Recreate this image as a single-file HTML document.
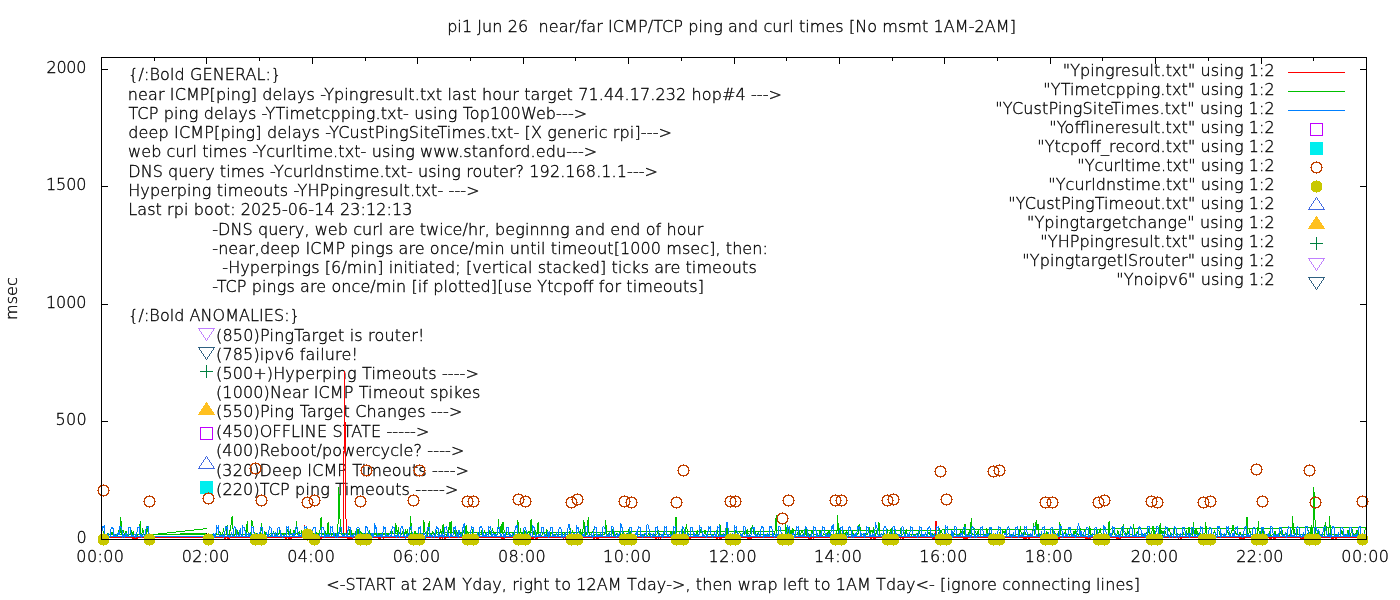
<!DOCTYPE html>
<html><head><meta charset="utf-8"><title>pi1 ping and curl times</title>
<style>html,body{margin:0;padding:0;background:#fff;}svg{display:block;}text{font-family:"DejaVu Sans","Liberation Sans",sans-serif;font-size:16px;font-weight:200;fill:#000;white-space:pre;stroke:#000;stroke-width:0.33px;}.c{shape-rendering:crispEdges;fill:none;stroke-width:1;}</style></head><body>
<svg width="1400" height="600" viewBox="0 0 1400 600">
<rect width="1400" height="600" fill="#fff"/>
<text x="447.14" y="32" textLength="568.83" lengthAdjust="spacing" xml:space="preserve">pi1 Jun 26  near/far ICMP/TCP ping and curl times [No msmt 1AM-2AM]</text>
<text x="326.27" y="590" textLength="813.7" lengthAdjust="spacing" xml:space="preserve">&lt;-START at 2AM Yday, right to 12AM Tday-&gt;, then wrap left to 1AM Tday&lt;- [ignore connecting lines]</text>
<text x="128.25" y="80" textLength="152.92" lengthAdjust="spacing" xml:space="preserve">{/:Bold GENERAL:}</text>
<text x="127.85" y="100" textLength="654.16" lengthAdjust="spacing" xml:space="preserve">near ICMP[ping] delays -Ypingresult.txt last hour target 71.44.17.232 hop#4 ---&gt;</text>
<text x="128.41" y="119" textLength="458.8" lengthAdjust="spacing" xml:space="preserve">TCP ping delays -YTimetcpping.txt- using Top100Web---&gt;</text>
<text x="128.29" y="138" textLength="543.72" lengthAdjust="spacing" xml:space="preserve">deep ICMP[ping] delays -YCustPingSiteTimes.txt- [X generic rpi]---&gt;</text>
<text x="128.05" y="157" textLength="469.17" lengthAdjust="spacing" xml:space="preserve">web curl times -Ycurltime.txt- using www.stanford.edu---&gt;</text>
<text x="128.22" y="177" textLength="529.79" lengthAdjust="spacing" xml:space="preserve">DNS query times -Ycurldnstime.txt- using router? 192.168.1.1---&gt;</text>
<text x="128.22" y="196" textLength="351.39" lengthAdjust="spacing" xml:space="preserve">Hyperping timeouts -YHPpingresult.txt- ---&gt;</text>
<text x="128.21" y="215" textLength="284.3" lengthAdjust="spacing" xml:space="preserve">Last rpi boot: 2025-06-14 23:12:13</text>
<text x="212.28" y="235" textLength="491.01" lengthAdjust="spacing" xml:space="preserve">-DNS query, web curl are twice/hr, beginnng and end of hour</text>
<text x="212.28" y="254" textLength="555.62" lengthAdjust="spacing" xml:space="preserve">-near,deep ICMP pings are once/min until timeout[1000 msec], then:</text>
<text x="222.28" y="273" textLength="534.47" lengthAdjust="spacing" xml:space="preserve">-Hyperpings [6/min] initiated; [vertical stacked] ticks are timeouts</text>
<text x="212.28" y="292" textLength="491.7" lengthAdjust="spacing" xml:space="preserve">-TCP pings are once/min [if plotted][use Ytcpoff for timeouts]</text>
<text x="128.25" y="321" textLength="171.59" lengthAdjust="spacing" xml:space="preserve">{/:Bold ANOMALIES:}</text>
<text x="216.01" y="341" textLength="208.49" lengthAdjust="spacing" xml:space="preserve">(850)PingTarget is router!</text>
<text x="216.01" y="360" textLength="141.79" lengthAdjust="spacing" xml:space="preserve">(785)ipv6 failure!</text>
<text x="216.01" y="379" textLength="262.92" lengthAdjust="spacing" xml:space="preserve">(500+)Hyperping Timeouts ----&gt;</text>
<text x="216.01" y="398" textLength="264.38" lengthAdjust="spacing" xml:space="preserve">(1000)Near ICMP Timeout spikes</text>
<text x="216.01" y="417" textLength="246.36" lengthAdjust="spacing" xml:space="preserve">(550)Ping Target Changes ---&gt;</text>
<text x="216.01" y="437" textLength="213.33" lengthAdjust="spacing" xml:space="preserve">(450)OFFLINE STATE -----&gt;</text>
<text x="216.01" y="456" textLength="248.32" lengthAdjust="spacing" xml:space="preserve">(400)Reboot/powercycle? ----&gt;</text>
<text x="216.01" y="476" textLength="252.92" lengthAdjust="spacing" xml:space="preserve">(320)Deep ICMP Timeouts ----&gt;</text>
<text x="216.01" y="495" textLength="242.34" lengthAdjust="spacing" xml:space="preserve">(220)TCP ping Timeouts -----&gt;</text>
<text x="1062.75" y="76" textLength="211.92" lengthAdjust="spacing" xml:space="preserve">"Ypingresult.txt" using 1:2</text>
<text x="1043.35" y="95" textLength="231.33" lengthAdjust="spacing" xml:space="preserve">"YTimetcpping.txt" using 1:2</text>
<text x="995.35" y="114" textLength="279.32" lengthAdjust="spacing" xml:space="preserve">"YCustPingSiteTimes.txt" using 1:2</text>
<text x="1049.35" y="133" textLength="225.34" lengthAdjust="spacing" xml:space="preserve">"Yofflineresult.txt" using 1:2</text>
<text x="1037.35" y="152" textLength="237.33" lengthAdjust="spacing" xml:space="preserve">"Ytcpoff_record.txt" using 1:2</text>
<text x="1077.35" y="171" textLength="197.3" lengthAdjust="spacing" xml:space="preserve">"Ycurltime.txt" using 1:2</text>
<text x="1048.35" y="190" textLength="226.31" lengthAdjust="spacing" xml:space="preserve">"Ycurldnstime.txt" using 1:2</text>
<text x="1008.35" y="209" textLength="266.32" lengthAdjust="spacing" xml:space="preserve">"YCustPingTimeout.txt" using 1:2</text>
<text x="1026.95" y="228" textLength="247.74" lengthAdjust="spacing" xml:space="preserve">"Ypingtargetchange" using 1:2</text>
<text x="1040.35" y="247" textLength="234.34" lengthAdjust="spacing" xml:space="preserve">"YHPpingresult.txt" using 1:2</text>
<text x="1022.35" y="266" textLength="252.33" lengthAdjust="spacing" xml:space="preserve">"YpingtargetISrouter" using 1:2</text>
<text x="1116.35" y="285" textLength="158.31" lengthAdjust="spacing" xml:space="preserve">"Ynoipv6" using 1:2</text>
<text x="76.34" y="562" textLength="47.7" lengthAdjust="spacing" xml:space="preserve">00:00</text>
<text x="181.74" y="562" textLength="47.7" lengthAdjust="spacing" xml:space="preserve">02:00</text>
<text x="287.14" y="562" textLength="47.7" lengthAdjust="spacing" xml:space="preserve">04:00</text>
<text x="392.64" y="562" textLength="47.58" lengthAdjust="spacing" xml:space="preserve">06:00</text>
<text x="498.04" y="562" textLength="47.7" lengthAdjust="spacing" xml:space="preserve">08:00</text>
<text x="603.11" y="562" textLength="48.11" lengthAdjust="spacing" xml:space="preserve">10:00</text>
<text x="708.51" y="562" textLength="48.11" lengthAdjust="spacing" xml:space="preserve">12:00</text>
<text x="813.91" y="562" textLength="48.11" lengthAdjust="spacing" xml:space="preserve">14:00</text>
<text x="919.31" y="562" textLength="48.11" lengthAdjust="spacing" xml:space="preserve">16:00</text>
<text x="1024.71" y="562" textLength="48.24" lengthAdjust="spacing" xml:space="preserve">18:00</text>
<text x="1130.86" y="562" textLength="47.3" lengthAdjust="spacing" xml:space="preserve">20:00</text>
<text x="1236.26" y="562" textLength="47.3" lengthAdjust="spacing" xml:space="preserve">22:00</text>
<text x="1341.34" y="562" textLength="47.7" lengthAdjust="spacing" xml:space="preserve">00:00</text>
<text x="76.54" y="543" textLength="10.98" lengthAdjust="spacing" xml:space="preserve">0</text>
<text x="55.59" y="425" textLength="31.2" lengthAdjust="spacing" xml:space="preserve">500</text>
<text x="45.91" y="308" textLength="40.64" lengthAdjust="spacing" xml:space="preserve">1000</text>
<text x="45.91" y="190" textLength="40.64" lengthAdjust="spacing" xml:space="preserve">1500</text>
<text x="46.56" y="73" textLength="39.78" lengthAdjust="spacing" xml:space="preserve">2000</text>
<text transform="translate(17,298.6) rotate(-90)" text-anchor="middle" textLength="42.9">msec</text>
<path class="c" stroke="#000" d="M101.5,421.5h6.5 M1366.5,421.5h-6.5 M101.5,304.5h6.5 M1366.5,304.5h-6.5 M101.5,186.5h6.5 M1366.5,186.5h-6.5 M101.5,69.5h6.5 M1366.5,69.5h-6.5 M154.5,57.5v3.5 M154.5,539.5v-3.5 M206.5,57.5v6.5 M206.5,539.5v-6.5 M259.5,57.5v3.5 M259.5,539.5v-3.5 M312.5,57.5v6.5 M312.5,539.5v-6.5 M365.5,57.5v3.5 M365.5,539.5v-3.5 M417.5,57.5v6.5 M417.5,539.5v-6.5 M470.5,57.5v3.5 M470.5,539.5v-3.5 M523.5,57.5v6.5 M523.5,539.5v-6.5 M575.5,57.5v3.5 M575.5,539.5v-3.5 M628.5,57.5v6.5 M628.5,539.5v-6.5 M681.5,57.5v3.5 M681.5,539.5v-3.5 M734.5,57.5v6.5 M734.5,539.5v-6.5 M786.5,57.5v3.5 M786.5,539.5v-3.5 M839.5,57.5v6.5 M839.5,539.5v-6.5 M892.5,57.5v3.5 M892.5,539.5v-3.5 M944.5,57.5v6.5 M944.5,539.5v-6.5 M997.5,57.5v3.5 M997.5,539.5v-3.5 M1050.5,57.5v6.5 M1050.5,539.5v-6.5 M1102.5,57.5v3.5 M1102.5,539.5v-3.5 M1155.5,57.5v6.5 M1155.5,539.5v-6.5 M1208.5,57.5v3.5 M1208.5,539.5v-3.5 M1261.5,57.5v6.5 M1261.5,539.5v-6.5 M1313.5,57.5v3.5 M1313.5,539.5v-3.5"/>
<polyline class="c" stroke="#ff0000" points="210.4,537.4 211.3,537.4 212.2,537.4 213.1,537.4 213.9,537.4 214.8,537.4 215.7,537.4 216.6,537.4 217.5,537.4 218.3,537.4 219.2,537.4 220.1,537.4 221.0,537.4 221.9,537.4 222.7,537.4 223.6,537.4 224.5,538.3 225.4,538.3 226.2,537.4 227.1,538.3 228.0,538.3 228.9,538.3 229.8,538.3 230.6,537.4 231.5,537.4 232.4,537.4 233.3,537.4 234.1,537.4 235.0,537.4 235.9,537.4 236.8,537.4 237.7,537.4 238.5,537.4 239.4,537.4 240.3,537.4 241.2,537.4 242.1,537.4 242.9,537.4 243.8,537.4 244.7,537.4 245.6,537.4 246.4,537.4 247.3,537.4 248.2,537.4 249.1,537.4 250.0,537.4 250.8,537.4 251.7,537.4 252.6,537.4 253.5,537.4 254.4,537.4 255.2,538.3 256.1,538.3 257.0,538.3 257.9,538.3 258.7,537.4 259.6,537.4 260.5,538.3 261.4,537.4 262.3,537.4 263.1,537.4 264.0,537.4 264.9,537.4 265.8,537.4 266.7,537.4 267.5,537.4 268.4,537.4 269.3,537.4 270.2,537.4 271.0,537.4 271.9,537.4 272.8,537.4 273.7,537.4 274.6,537.4 275.4,537.4 276.3,537.4 277.2,537.4 278.1,537.4 279.0,537.4 279.8,537.4 280.7,537.4 281.6,537.4 282.5,537.4 283.3,537.4 284.2,537.4 285.1,537.4 286.0,538.3 286.9,538.3 287.7,537.4 288.6,538.3 289.5,538.3 290.4,538.3 291.2,538.3 292.1,537.4 293.0,537.4 293.9,537.4 294.8,537.4 295.6,537.4 296.5,537.4 297.4,537.4 298.3,537.4 299.2,537.4 300.0,537.4 300.9,537.4 301.8,537.4 302.7,537.4 303.5,537.4 304.4,525.4 305.3,537.4 306.2,537.4 307.1,537.4 307.9,537.4 308.8,537.4 309.7,537.4 310.6,537.4 311.5,537.4 312.3,537.4 313.2,537.4 314.1,537.4 315.0,537.4 315.8,537.4 316.7,537.4 317.6,538.3 318.5,538.3 319.4,538.3 320.2,538.3 321.1,538.3 322.0,537.4 322.9,537.4 323.8,537.4 324.6,537.4 325.5,537.4 326.4,537.4 327.3,537.4 328.1,537.4 329.0,537.4 329.9,537.4 330.8,537.4 331.7,537.4 332.5,537.4 333.4,537.4 334.3,537.4 335.2,537.4 336.1,537.4 336.9,537.4 337.8,537.4 338.7,537.4 339.6,537.4 340.4,537.4 341.3,537.4 342.2,537.4 343.1,537.4 343.5,537.6 344.5,371.5 346.2,537.4 346.6,537.4 347.5,538.3 348.4,538.3 349.2,538.3 350.1,538.3 351.0,538.3 351.9,538.3 352.7,538.3 353.6,537.4 354.5,537.4 355.4,537.4 356.3,537.4 357.1,537.4 358.0,537.4 358.9,537.4 359.8,537.4 360.6,537.4 361.5,537.4 362.4,537.4 363.3,537.4 364.2,537.4 365.0,537.4 365.9,537.4 366.8,537.4 367.7,537.4 368.6,537.4 369.4,537.4 370.3,537.4 371.2,537.4 372.1,537.4 372.9,537.4 373.8,537.4 374.7,537.4 375.6,537.4 376.5,537.4 377.3,537.4 378.2,538.3 379.1,538.3 380.0,538.3 380.9,538.3 381.7,537.4 382.6,537.4 383.5,538.3 384.4,537.4 385.2,537.4 386.1,537.4 387.0,537.4 387.9,537.4 388.8,537.4 389.6,537.4 390.5,537.4 391.4,537.4 392.3,537.4 393.2,537.4 394.0,537.4 394.9,537.4 395.8,537.4 396.7,537.4 397.5,537.4 398.4,537.4 399.3,537.4 400.2,537.4 401.1,537.4 401.9,537.4 402.8,537.4 403.7,537.4 404.6,537.4 405.5,537.4 406.3,537.4 407.2,537.4 408.1,537.4 409.0,537.4 409.8,537.4 410.7,538.3 411.6,538.3 412.5,538.3 413.4,538.3 414.2,538.3 415.1,537.4 416.0,537.4 416.9,537.4 417.8,537.4 418.6,537.4 419.5,537.4 420.4,537.4 421.3,537.4 422.1,537.4 423.0,537.4 423.9,537.4 424.8,537.4 425.7,537.4 426.5,537.4 427.4,537.4 428.3,537.4 429.2,537.4 430.0,537.4 430.9,537.4 431.8,537.4 432.7,537.4 433.6,537.4 434.4,537.4 435.3,537.4 436.2,537.4 437.1,537.4 438.0,537.4 438.8,537.4 439.7,538.3 440.6,538.3 441.5,537.4 442.3,538.3 443.2,537.4 444.1,538.3 445.0,538.3 445.9,537.4 446.7,537.4 447.6,537.4 448.5,537.4 449.4,537.4 450.3,537.4 451.1,537.4 452.0,537.4 452.9,537.4 453.8,537.4 454.6,537.4 455.5,537.4 456.4,537.4 457.3,537.4 458.2,537.4 459.0,537.4 459.9,537.4 460.8,537.4 461.7,537.4 462.6,537.4 463.4,537.4 464.3,537.4 465.2,537.4 466.1,537.4 466.9,537.4 467.8,537.4 468.7,537.4 469.6,537.4 470.5,538.3 471.3,537.4 472.2,538.3 473.1,538.3 474.0,538.3 474.9,537.4 475.7,537.4 476.6,537.4 477.5,537.4 478.4,537.4 479.2,537.4 480.1,537.4 481.0,537.4 481.9,537.4 482.8,537.4 483.6,537.4 484.5,537.4 485.4,537.4 486.3,537.4 487.1,537.4 488.0,537.4 488.9,537.4 489.8,537.4 490.7,537.4 491.5,537.4 492.4,537.4 493.3,537.4 494.2,537.4 495.1,537.4 495.9,537.4 496.8,537.4 497.7,537.4 498.6,537.4 499.4,537.4 500.3,537.4 501.2,538.3 502.1,538.3 503.0,538.3 503.8,538.3 504.7,538.3 505.6,537.4 506.5,537.4 507.4,537.4 508.2,537.4 509.1,537.4 510.0,537.4 510.9,537.4 511.7,537.4 512.6,537.4 513.5,537.4 514.4,537.4 515.3,537.4 516.1,537.4 517.0,537.4 517.9,537.4 518.8,537.4 519.7,537.4 520.5,537.4 521.4,537.4 522.3,537.4 523.2,537.4 524.0,537.4 524.9,537.4 525.8,537.4 526.7,537.4 527.6,537.4 528.4,537.4 529.3,537.4 530.2,537.4 531.1,537.4 532.0,538.3 532.8,538.3 533.7,538.3 534.6,537.4 535.5,538.3 536.3,538.3 537.2,538.3 538.1,537.4 539.0,537.4 539.9,537.4 540.7,537.4 541.6,537.4 542.5,537.4 543.4,537.4 544.2,537.4 545.1,537.4 546.0,537.4 546.9,537.4 547.8,537.4 548.6,537.4 549.5,537.4 550.4,537.4 551.3,537.4 552.2,537.4 553.0,537.4 553.9,537.4 554.8,537.4 555.7,537.4 556.5,537.4 557.4,537.4 558.3,537.4 559.2,537.4 560.1,537.4 560.9,537.4 561.8,537.4 562.7,537.4 563.6,538.3 564.5,537.4 565.3,538.3 566.2,538.3 567.1,537.4 568.0,538.3 568.8,537.4 569.7,537.4 570.6,537.4 571.5,537.4 572.4,537.4 573.2,537.4 574.1,537.4 575.0,537.4 575.9,537.4 576.8,537.4 577.6,537.4 578.5,537.4 579.4,537.4 580.3,537.4 581.1,537.4 582.0,537.4 582.9,537.4 583.8,537.4 584.7,537.4 585.5,537.4 586.4,537.4 587.3,537.4 588.2,537.4 589.1,537.4 589.9,537.4 590.8,537.4 591.7,537.4 592.6,537.4 593.4,538.3 594.3,538.3 595.2,537.4 596.1,538.3 597.0,538.3 597.8,538.3 598.7,538.3 599.6,537.4 600.5,537.4 601.4,537.4 602.2,537.4 603.1,537.4 604.0,537.4 604.9,537.4 605.7,537.4 606.6,537.4 607.5,537.4 608.4,537.4 609.3,537.4 610.1,537.4 611.0,537.4 611.9,537.4 612.8,537.4 613.6,537.4 614.5,537.4 615.4,537.4 616.3,537.4 617.2,537.4 618.0,537.4 618.9,537.4 619.8,537.4 620.7,537.4 621.6,537.4 622.4,537.4 623.3,537.4 624.2,538.3 625.1,537.4 625.9,537.4 626.8,537.4 627.7,538.3 628.6,538.3 629.5,537.4 630.3,537.4 631.2,537.4 632.1,537.4 633.0,537.4 633.9,537.4 634.7,537.4 635.6,537.4 636.5,537.4 637.4,537.4 638.2,537.4 639.1,537.4 640.0,537.4 640.9,537.4 641.8,537.4 642.6,537.4 643.5,537.4 644.4,537.4 645.3,537.4 646.2,537.4 647.0,537.4 647.9,537.4 648.8,537.4 649.7,537.4 650.5,537.4 651.4,537.4 652.3,537.4 653.2,537.4 654.1,537.4 654.9,537.4 655.8,538.3 656.7,538.3 657.6,537.4 658.5,538.3 659.3,537.4 660.2,538.3 661.1,537.4 662.0,537.4 662.8,537.4 663.7,537.4 664.6,537.4 665.5,537.4 666.4,537.4 667.2,537.4 668.1,537.4 669.0,537.4 669.9,537.4 670.8,537.4 671.6,537.4 672.5,537.4 673.4,537.4 674.3,537.4 675.1,537.4 676.0,537.4 676.9,537.4 677.8,537.4 678.7,537.4 679.5,537.4 680.4,537.4 681.3,537.4 682.2,537.4 683.0,537.4 683.9,537.4 684.8,537.4 685.7,537.4 686.6,538.3 687.4,538.3 688.3,538.3 689.2,538.3 690.1,538.3 691.0,538.3 691.8,537.4 692.7,537.4 693.6,537.4 694.5,537.4 695.3,537.4 696.2,537.4 697.1,537.4 698.0,537.4 698.9,537.4 699.7,537.4 700.6,537.4 701.5,537.4 702.4,537.4 703.3,537.4 704.1,537.4 705.0,537.4 705.9,537.4 706.8,537.4 707.6,537.4 708.5,537.4 709.4,537.4 710.3,537.4 711.2,537.4 712.0,537.4 712.9,537.4 713.8,537.4 714.7,537.4 715.6,537.4 716.4,538.3 717.3,538.3 718.2,537.4 719.1,538.3 719.9,538.3 720.8,538.3 721.7,538.3 722.6,537.4 723.5,537.4 724.3,537.4 725.2,537.4 726.1,537.4 727.0,537.4 727.9,537.4 728.7,537.4 729.6,537.4 730.5,537.4 731.4,537.4 732.2,537.4 733.1,537.4 734.0,537.4 734.9,537.4 735.8,537.4 736.6,537.4 737.5,537.4 738.4,537.4 739.3,537.4 740.1,537.4 741.0,537.4 741.9,537.4 742.8,537.4 743.7,537.4 744.5,537.4 745.4,537.4 746.3,537.4 747.2,538.3 748.1,537.4 748.9,538.3 749.8,538.3 750.7,538.3 751.6,538.3 752.4,537.4 753.3,537.4 754.2,537.4 755.1,537.4 756.0,537.4 756.8,537.4 757.7,537.4 758.6,537.4 759.5,537.4 760.4,537.4 761.2,537.4 762.1,537.4 763.0,537.4 763.9,537.4 764.7,537.4 765.6,537.4 766.5,537.4 767.4,537.4 768.3,537.4 769.1,537.4 770.0,537.4 770.9,537.4 771.8,537.4 772.7,537.4 773.5,537.4 774.4,537.4 775.3,537.4 776.2,537.4 777.0,537.4 777.9,537.4 778.8,537.4 779.7,537.4 780.6,537.4 781.4,538.3 782.3,537.4 783.2,537.4 784.1,537.4 785.0,537.4 785.8,537.4 786.7,537.4 787.6,537.4 788.5,537.4 789.3,537.4 790.2,537.4 791.1,537.4 792.0,537.4 792.9,537.4 793.7,537.4 794.6,537.4 795.5,537.4 796.4,537.4 797.2,537.4 798.1,537.4 799.0,537.4 799.9,537.4 800.8,537.4 801.6,537.4 802.5,537.4 803.4,537.4 804.3,537.4 805.2,537.4 806.0,537.4 806.9,537.4 807.8,537.4 808.7,538.3 809.5,538.3 810.4,538.3 811.3,538.3 812.2,537.4 813.1,538.3 813.9,538.3 814.8,537.4 815.7,537.4 816.6,537.4 817.5,537.4 818.3,537.4 819.2,537.4 820.1,537.4 821.0,537.4 821.8,537.4 822.7,537.4 823.6,537.4 824.5,537.4 825.4,537.4 826.2,537.4 827.1,537.4 828.0,537.4 828.9,537.4 829.8,537.4 830.6,537.4 831.5,537.4 832.4,537.4 833.3,537.4 834.1,537.4 835.0,537.4 835.9,537.4 836.8,537.4 837.7,537.4 838.5,537.4 839.4,538.3 840.3,538.3 841.2,538.3 842.1,538.3 842.9,538.3 843.8,538.3 844.7,538.3 845.6,537.4 846.4,537.4 847.3,537.4 848.2,537.4 849.1,537.4 850.0,537.4 850.8,537.4 851.7,537.4 852.6,537.4 853.5,537.4 854.4,537.4 855.2,537.4 856.1,537.4 857.0,537.4 857.9,537.4 858.7,537.4 859.6,537.4 860.5,537.4 861.4,537.4 862.3,537.4 863.1,537.4 864.0,537.4 864.9,537.4 865.8,537.4 866.6,537.4 867.5,537.4 868.4,537.4 869.3,537.4 870.2,538.3 871.0,538.3 871.9,538.3 872.8,537.4 873.7,538.3 874.6,538.3 875.4,538.3 876.3,537.4 877.2,537.4 878.1,537.4 878.9,537.4 879.8,537.4 880.7,537.4 881.6,537.4 882.5,537.4 883.3,537.4 884.2,537.4 885.1,537.4 886.0,537.4 886.9,537.4 887.7,537.4 888.6,537.4 889.5,537.4 890.4,537.4 891.2,537.4 892.1,537.4 893.0,537.4 893.9,537.4 894.8,537.4 895.6,537.4 896.5,537.4 897.4,537.4 898.3,537.4 899.2,537.4 900.0,537.4 900.9,538.3 901.8,537.4 902.7,538.3 903.5,538.3 904.4,537.4 905.3,537.4 906.2,537.4 907.1,537.4 907.9,537.4 908.8,537.4 909.7,537.4 910.6,537.4 911.5,537.4 912.3,537.4 913.2,537.4 914.1,537.4 915.0,537.4 915.8,537.4 916.7,537.4 917.6,537.4 918.5,537.4 919.4,537.4 920.2,537.4 921.1,537.4 922.0,537.4 922.9,537.4 923.8,537.4 924.6,537.4 925.5,537.4 926.4,537.4 927.3,537.4 928.1,537.4 929.0,537.4 929.9,537.4 930.8,537.4 931.7,537.4 932.5,538.3 933.4,538.3 934.3,538.3 935.2,538.3 936.0,520.7 936.9,538.3 937.8,537.4 938.7,537.4 939.6,537.4 940.4,537.4 941.3,537.4 942.2,537.4 943.1,537.4 944.0,537.4 944.8,537.4 945.7,537.4 946.6,537.4 947.5,537.4 948.3,537.4 949.2,537.4 950.1,537.4 951.0,537.4 951.9,537.4 952.7,537.4 953.6,537.4 954.5,537.4 955.4,537.4 956.3,537.4 957.1,537.4 958.0,537.4 958.9,537.4 959.8,537.4 960.6,537.4 961.5,537.4 962.4,537.4 963.3,538.3 964.2,538.3 965.0,538.3 965.9,538.3 966.8,538.3 967.7,538.3 968.6,537.4 969.4,537.4 970.3,537.4 971.2,537.4 972.1,537.4 972.9,537.4 973.8,537.4 974.7,537.4 975.6,537.4 976.5,537.4 977.3,537.4 978.2,537.4 979.1,537.4 980.0,537.4 980.9,537.4 981.7,537.4 982.6,537.4 983.5,537.4 984.4,537.4 985.2,537.4 986.1,537.4 987.0,537.4 987.9,537.4 988.8,537.4 989.6,537.4 990.5,537.4 991.4,537.4 992.3,537.4 993.1,538.3 994.0,538.3 994.9,538.3 995.8,538.3 996.7,538.3 997.5,538.3 998.4,538.3 999.3,537.4 1000.2,537.4 1001.1,537.4 1001.9,537.4 1002.8,537.4 1003.7,537.4 1004.6,537.4 1005.4,537.4 1006.3,537.4 1007.2,537.4 1008.1,537.4 1009.0,537.4 1009.8,537.4 1010.7,537.4 1011.6,537.4 1012.5,537.4 1013.4,537.4 1014.2,537.4 1015.1,537.4 1016.0,537.4 1016.9,537.4 1017.7,537.4 1018.6,537.4 1019.5,537.4 1020.4,537.4 1021.3,537.4 1022.1,537.4 1023.0,537.4 1023.9,538.3 1024.8,538.3 1025.7,538.3 1026.5,538.3 1027.4,537.4 1028.3,538.3 1029.2,538.3 1030.0,537.4 1030.9,537.4 1031.8,537.4 1032.7,537.4 1033.6,537.4 1034.4,537.4 1035.3,537.4 1036.2,537.4 1037.1,537.4 1038.0,537.4 1038.8,537.4 1039.7,537.4 1040.6,537.4 1041.5,537.4 1042.3,537.4 1043.2,537.4 1044.1,537.4 1045.0,537.4 1045.9,537.4 1046.7,537.4 1047.6,537.4 1048.5,537.4 1049.4,537.4 1050.2,537.4 1051.1,537.4 1052.0,537.4 1052.9,537.4 1053.8,537.4 1054.6,537.4 1055.5,538.3 1056.4,538.3 1057.3,538.3 1058.2,538.3 1059.0,537.4 1059.9,538.3 1060.8,537.4 1061.7,537.4 1062.5,537.4 1063.4,537.4 1064.3,537.4 1065.2,537.4 1066.1,537.4 1066.9,537.4 1067.8,537.4 1068.7,537.4 1069.6,537.4 1070.5,537.4 1071.3,537.4 1072.2,537.4 1073.1,537.4 1074.0,537.4 1074.8,537.4 1075.7,537.4 1076.6,537.4 1077.5,537.4 1078.4,537.4 1079.2,537.4 1080.1,537.4 1081.0,537.4 1081.9,537.4 1082.8,537.4 1083.6,537.4 1084.5,537.4 1085.4,538.3 1086.3,538.3 1087.1,537.4 1088.0,538.3 1088.9,538.3 1089.8,538.3 1090.7,538.3 1091.5,537.4 1092.4,537.4 1093.3,537.4 1094.2,537.4 1095.1,537.4 1095.9,537.4 1096.8,537.4 1097.7,537.4 1098.6,537.4 1099.4,537.4 1100.3,537.4 1101.2,537.4 1102.1,537.4 1103.0,537.4 1103.8,537.4 1104.7,537.4 1105.6,537.4 1106.5,537.4 1107.4,537.4 1108.2,537.4 1109.1,537.4 1110.0,537.4 1110.9,537.4 1111.7,537.4 1112.6,537.4 1113.5,537.4 1114.4,537.4 1115.3,537.4 1116.1,538.3 1117.0,538.3 1117.9,537.4 1118.8,538.3 1119.6,538.3 1120.5,538.3 1121.4,537.4 1122.3,537.4 1123.2,537.4 1124.0,537.4 1124.9,537.4 1125.8,537.4 1126.7,537.4 1127.6,537.4 1128.4,537.4 1129.3,537.4 1130.2,537.4 1131.1,537.4 1131.9,537.4 1132.8,537.4 1133.7,537.4 1134.6,537.4 1135.5,537.4 1136.3,537.4 1137.2,537.4 1138.1,537.4 1139.0,537.4 1139.9,537.4 1140.7,537.4 1141.6,537.4 1142.5,537.4 1143.4,537.4 1144.2,537.4 1145.1,537.4 1146.0,537.4 1146.9,538.3 1147.8,537.4 1148.6,538.3 1149.5,538.3 1150.4,538.3 1151.3,537.4 1152.2,538.3 1153.0,537.4 1153.9,537.4 1154.8,537.4 1155.7,537.4 1156.5,537.4 1157.4,537.4 1158.3,537.4 1159.2,537.4 1160.1,537.4 1160.9,537.4 1161.8,537.4 1162.7,537.4 1163.6,537.4 1164.5,537.4 1165.3,537.4 1166.2,537.4 1167.1,537.4 1168.0,537.4 1168.8,537.4 1169.7,537.4 1170.6,537.4 1171.5,537.4 1172.4,537.4 1173.2,537.4 1174.1,537.4 1175.0,537.4 1175.9,537.4 1176.8,537.4 1177.6,537.4 1178.5,538.3 1179.4,537.4 1180.3,538.3 1181.1,538.3 1182.0,537.4 1182.9,537.4 1183.8,537.4 1184.7,537.4 1185.5,537.4 1186.4,537.4 1187.3,537.4 1188.2,537.4 1189.0,537.4 1189.9,537.4 1190.8,537.4 1191.7,537.4 1192.6,537.4 1193.4,537.4 1194.3,537.4 1195.2,537.4 1196.1,537.4 1197.0,537.4 1197.8,537.4 1198.7,537.4 1199.6,537.4 1200.5,537.4 1201.3,537.4 1202.2,537.4 1203.1,537.4 1204.0,537.4 1204.9,537.4 1205.7,537.4 1206.6,537.4 1207.5,537.4 1208.4,537.4 1209.3,538.3 1210.1,538.3 1211.0,538.3 1211.9,538.3 1212.8,538.3 1213.6,538.3 1214.5,537.4 1215.4,537.4 1216.3,537.4 1217.2,537.4 1218.0,537.4 1218.9,537.4 1219.8,537.4 1220.7,537.4 1221.6,537.4 1222.4,537.4 1223.3,537.4 1224.2,537.4 1225.1,537.4 1225.9,537.4 1226.8,537.4 1227.7,537.4 1228.6,537.4 1229.5,537.4 1230.3,537.4 1231.2,537.4 1232.1,537.4 1233.0,537.4 1233.9,537.4 1234.7,537.4 1235.6,537.4 1236.5,537.4 1237.4,537.4 1238.2,537.4 1239.1,537.4 1240.0,538.3 1240.9,537.4 1241.8,538.3 1242.6,538.3 1243.5,538.3 1244.4,538.3 1245.3,537.4 1246.1,537.4 1247.0,537.4 1247.9,537.4 1248.8,537.4 1249.7,537.4 1250.5,537.4 1251.4,537.4 1252.3,537.4 1253.2,537.4 1254.1,537.4 1254.9,537.4 1255.8,537.4 1256.7,537.4 1257.6,537.4 1258.4,537.4 1259.3,537.4 1260.2,537.4 1261.1,537.4 1262.0,537.4 1262.8,537.4 1263.7,537.4 1264.6,537.4 1265.5,537.4 1266.4,537.4 1267.2,537.4 1268.1,537.4 1269.0,537.4 1269.9,538.3 1270.7,538.3 1271.6,538.3 1272.5,537.4 1273.4,538.3 1274.3,538.3 1275.1,538.3 1276.0,537.4 1276.9,537.4 1277.8,537.4 1278.7,537.4 1279.5,537.4 1280.4,537.4 1281.3,537.4 1282.2,537.4 1283.0,537.4 1283.9,537.4 1284.8,537.4 1285.7,537.4 1286.6,537.4 1287.4,537.4 1288.3,537.4 1289.2,537.4 1290.1,537.4 1291.0,537.4 1291.8,537.4 1292.7,537.4 1293.6,537.4 1294.5,537.4 1295.3,537.4 1296.2,537.4 1297.1,537.4 1298.0,537.4 1298.9,537.4 1299.7,537.4 1300.6,538.3 1301.5,538.3 1302.4,538.3 1303.2,538.3 1304.1,538.3 1305.0,538.3 1305.9,537.4 1306.8,537.4 1307.6,537.4 1308.5,537.4 1309.4,537.4 1310.3,537.4 1311.2,537.4 1312.0,537.4 1312.9,537.4 1313.8,537.4 1314.7,537.4 1315.5,537.4 1316.4,537.4 1317.3,537.4 1318.2,537.4 1319.1,537.4 1319.9,537.4 1320.8,537.4 1321.7,537.4 1322.6,537.4 1323.5,537.4 1324.3,537.4 1325.2,537.4 1326.1,537.4 1327.0,537.4 1327.8,537.4 1328.7,537.4 1329.6,537.4 1330.5,537.4 1331.4,538.3 1332.2,538.3 1333.1,538.3 1334.0,537.4 1334.9,537.4 1335.8,538.3 1336.6,538.3 1337.5,537.4 1338.4,537.4 1339.3,537.4 1340.1,537.4 1341.0,537.4 1341.9,537.4 1342.8,537.4 1343.7,537.4 1344.5,537.4 1345.4,537.4 1346.3,537.4 1347.2,537.4 1348.1,537.4 1348.9,537.4 1349.8,537.4 1350.7,537.4 1351.6,537.4 1352.4,537.4 1353.3,537.4 1354.2,537.4 1355.1,537.4 1356.0,537.4 1356.8,537.4 1357.7,537.4 1358.6,537.4 1359.5,537.4 1360.4,537.4 1361.2,537.4 1362.1,538.3 1363.0,537.4 1363.9,538.3 1364.7,538.3 1365.6,537.4 101.5,537.4 102.4,538.3 103.3,537.4 104.1,538.3 105.0,538.3 105.9,538.3 106.8,537.4 107.6,537.4 108.5,537.4 109.4,537.4 110.3,537.4 111.2,537.4 112.0,537.4 112.9,537.4 113.8,537.4 114.7,537.4 115.6,537.4 116.4,537.4 117.3,537.4 118.2,537.4 119.1,537.4 119.9,537.4 120.8,537.4 121.7,537.4 122.6,537.4 123.5,537.4 124.3,537.4 125.2,537.4 126.1,537.4 127.0,537.4 127.9,537.4 128.7,537.4 129.6,537.4 130.5,537.4 131.4,537.4 132.2,538.3 133.1,538.3 134.0,538.3 134.9,538.3 135.8,538.3 136.6,538.3 137.5,538.3 138.4,537.4 139.3,537.4 140.2,537.4 141.0,537.4 141.9,537.4 142.8,537.4 143.7,537.4 144.5,537.4 145.4,537.4 146.3,537.4 147.2,537.4 148.1,537.4 148.9,537.4 149.8,537.4"/>
<polyline class="c" stroke="#00c000" points="210.4,534.5 211.3,534.0 212.2,534.4 213.1,534.5 213.9,534.6 214.8,534.6 215.7,534.3 216.6,533.9 217.5,534.5 218.3,534.1 219.2,531.3 220.1,532.7 221.0,534.2 221.9,535.1 222.7,534.3 223.6,528.1 224.5,533.9 225.4,534.6 226.2,534.1 227.1,525.0 228.0,535.0 228.9,534.3 229.8,530.7 230.6,530.3 231.5,518.8 232.4,516.2 233.3,535.1 234.1,535.2 235.0,534.9 235.9,528.9 236.8,534.9 237.7,529.7 238.5,535.1 239.4,530.6 240.3,529.4 241.2,535.2 242.1,535.2 242.9,534.6 243.8,534.5 244.7,534.9 245.6,531.6 246.4,532.9 247.3,520.6 248.2,534.9 249.1,535.0 250.0,535.2 250.8,535.2 251.7,520.2 252.6,522.1 253.5,530.4 254.4,534.1 255.2,534.6 256.1,533.9 257.0,534.1 257.9,534.4 258.7,534.8 259.6,532.9 260.5,534.9 261.4,523.3 262.3,534.3 263.1,534.9 264.0,534.6 264.9,531.6 265.8,533.9 266.7,534.9 267.5,534.8 268.4,535.3 269.3,534.6 270.2,535.0 271.0,535.3 271.9,535.1 272.8,535.2 273.7,532.0 274.6,534.5 275.4,534.3 276.3,534.0 277.2,534.8 278.1,535.1 279.0,534.4 279.8,528.4 280.7,534.2 281.6,535.1 282.5,534.6 283.3,534.1 284.2,534.4 285.1,534.3 286.0,534.9 286.9,531.7 287.7,529.8 288.6,534.4 289.5,534.6 290.4,529.1 291.2,534.5 292.1,535.2 293.0,534.9 293.9,529.9 294.8,534.2 295.6,534.6 296.5,521.4 297.4,534.2 298.3,534.4 299.2,532.1 300.0,534.8 300.9,535.3 301.8,530.2 302.7,534.3 303.5,534.5 304.4,534.6 305.3,531.3 306.2,533.9 307.1,529.3 307.9,534.6 308.8,535.0 309.7,535.0 310.6,535.1 311.5,533.9 312.3,530.1 313.2,534.3 314.1,534.0 315.0,535.2 315.8,530.8 316.7,535.1 317.6,534.8 318.5,535.3 319.4,534.1 320.2,529.1 321.1,517.2 322.0,534.7 322.9,534.4 323.8,534.7 324.6,535.2 325.5,531.0 326.4,534.9 327.3,534.5 328.1,522.1 329.0,534.1 329.9,534.0 330.8,534.5 331.7,535.2 332.5,534.6 333.4,534.4 334.3,535.2 335.2,535.1 336.1,534.8 336.9,534.2 337.8,534.9 338.7,486.6 339.6,508.9 340.4,527.5 341.3,534.6 342.2,534.0 343.1,534.6 344.0,532.7 344.8,535.1 345.7,534.9 346.6,534.0 347.5,534.7 348.4,534.5 349.2,534.8 350.1,528.9 351.0,530.0 351.9,535.0 352.7,534.9 353.6,534.6 354.5,534.1 355.4,535.2 356.3,528.6 357.1,534.4 358.0,528.9 358.9,534.1 359.8,534.9 360.6,531.0 361.5,533.9 362.4,534.4 363.3,534.6 364.2,535.2 365.0,534.9 365.9,534.4 366.8,535.1 367.7,534.4 368.6,535.1 369.4,530.2 370.3,535.0 371.2,535.3 372.1,534.6 372.9,534.4 373.8,534.6 374.7,534.9 375.6,534.3 376.5,535.2 377.3,534.3 378.2,534.9 379.1,534.0 380.0,535.2 380.9,534.7 381.7,535.0 382.6,534.2 383.5,535.0 384.4,534.8 385.2,534.9 386.1,534.2 387.0,533.9 387.9,535.0 388.8,534.7 389.6,533.9 390.5,531.9 391.4,535.1 392.3,531.6 393.2,534.0 394.0,533.9 394.9,534.8 395.8,522.8 396.7,530.9 397.5,534.8 398.4,527.2 399.3,533.9 400.2,531.2 401.1,534.1 401.9,534.7 402.8,531.1 403.7,535.0 404.6,534.0 405.5,529.4 406.3,535.2 407.2,529.4 408.1,534.2 409.0,534.8 409.8,533.9 410.7,516.2 411.6,534.8 412.5,535.3 413.4,534.0 414.2,533.9 415.1,531.1 416.0,533.9 416.9,534.9 417.8,534.6 418.6,535.0 419.5,534.2 420.4,534.2 421.3,534.8 422.1,534.8 423.0,535.2 423.9,520.4 424.8,531.0 425.7,533.9 426.5,533.9 427.4,535.2 428.3,529.7 429.2,520.9 430.0,534.4 430.9,534.2 431.8,534.3 432.7,531.0 433.6,534.7 434.4,535.0 435.3,534.9 436.2,529.7 437.1,534.7 438.0,534.6 438.8,534.1 439.7,533.9 440.6,529.3 441.5,534.0 442.3,532.5 443.2,523.8 444.1,534.7 445.0,534.6 445.9,534.2 446.7,535.1 447.6,534.4 448.5,534.8 449.4,521.9 450.3,534.4 451.1,520.8 452.0,535.0 452.9,535.0 453.8,534.5 454.6,531.6 455.5,534.4 456.4,530.2 457.3,534.9 458.2,533.9 459.0,534.5 459.9,534.7 460.8,533.9 461.7,535.0 462.6,535.0 463.4,530.3 464.3,534.7 465.2,534.6 466.1,525.4 466.9,534.0 467.8,530.9 468.7,535.1 469.6,534.5 470.5,535.1 471.3,534.1 472.2,535.0 473.1,527.9 474.0,535.2 474.9,534.7 475.7,534.4 476.6,535.0 477.5,535.0 478.4,534.1 479.2,535.0 480.1,534.7 481.0,534.7 481.9,530.0 482.8,535.2 483.6,534.2 484.5,531.7 485.4,534.5 486.3,534.8 487.1,534.4 488.0,534.3 488.9,534.7 489.8,530.4 490.7,534.2 491.5,534.6 492.4,527.8 493.3,532.4 494.2,534.6 495.1,532.1 495.9,534.2 496.8,535.2 497.7,534.7 498.6,519.1 499.4,533.9 500.3,534.1 501.2,524.4 502.1,534.0 503.0,521.7 503.8,529.7 504.7,531.0 505.6,535.1 506.5,534.0 507.4,534.9 508.2,534.8 509.1,532.5 510.0,534.3 510.9,535.0 511.7,535.1 512.6,534.4 513.5,534.0 514.4,534.5 515.3,535.1 516.1,534.4 517.0,534.1 517.9,520.0 518.8,534.8 519.7,534.6 520.5,527.8 521.4,534.9 522.3,533.9 523.2,534.3 524.0,535.3 524.9,530.6 525.8,534.5 526.7,535.1 527.6,534.3 528.4,531.9 529.3,531.9 530.2,534.4 531.1,518.7 532.0,531.0 532.8,530.6 533.7,534.2 534.6,534.9 535.5,530.1 536.3,534.4 537.2,533.9 538.1,521.9 539.0,535.2 539.9,534.7 540.7,535.2 541.6,535.3 542.5,533.9 543.4,530.5 544.2,534.4 545.1,535.0 546.0,534.8 546.9,528.8 547.8,535.3 548.6,534.2 549.5,534.2 550.4,535.0 551.3,532.9 552.2,534.2 553.0,534.1 553.9,534.9 554.8,534.7 555.7,534.5 556.5,534.4 557.4,535.0 558.3,535.2 559.2,534.9 560.1,533.9 560.9,534.8 561.8,534.8 562.7,534.0 563.6,534.3 564.5,533.9 565.3,534.1 566.2,534.1 567.1,534.2 568.0,534.8 568.8,534.4 569.7,531.5 570.6,529.3 571.5,535.1 572.4,530.4 573.2,534.3 574.1,535.2 575.0,534.8 575.9,534.1 576.8,535.2 577.6,534.0 578.5,535.1 579.4,535.1 580.3,528.8 581.1,534.1 582.0,534.9 582.9,530.0 583.8,519.6 584.7,531.8 585.5,534.8 586.4,533.9 587.3,534.1 588.2,516.9 589.1,534.7 589.9,534.8 590.8,534.5 591.7,534.1 592.6,531.5 593.4,529.9 594.3,535.3 595.2,534.6 596.1,535.0 597.0,534.8 597.8,534.9 598.7,534.9 599.6,534.3 600.5,535.1 601.4,535.2 602.2,534.3 603.1,534.4 604.0,534.7 604.9,534.0 605.7,520.0 606.6,534.9 607.5,534.6 608.4,534.0 609.3,534.6 610.1,534.2 611.0,534.4 611.9,534.8 612.8,529.4 613.6,535.0 614.5,534.2 615.4,535.1 616.3,534.0 617.2,535.0 618.0,534.3 618.9,535.1 619.8,531.7 620.7,535.0 621.6,535.0 622.4,534.2 623.3,531.6 624.2,533.9 625.1,534.2 625.9,535.0 626.8,535.1 627.7,534.7 628.6,529.5 629.5,534.6 630.3,534.6 631.2,530.8 632.1,534.0 633.0,534.5 633.9,534.7 634.7,534.3 635.6,534.2 636.5,534.1 637.4,534.4 638.2,534.8 639.1,535.1 640.0,534.2 640.9,534.4 641.8,534.7 642.6,534.4 643.5,534.3 644.4,535.0 645.3,534.2 646.2,534.6 647.0,535.2 647.9,535.0 648.8,533.9 649.7,535.1 650.5,534.5 651.4,534.5 652.3,534.1 653.2,534.7 654.1,535.0 654.9,534.7 655.8,535.1 656.7,534.8 657.6,531.3 658.5,531.0 659.3,534.8 660.2,535.0 661.1,533.9 662.0,535.0 662.8,534.7 663.7,535.1 664.6,534.1 665.5,534.6 666.4,535.0 667.2,534.8 668.1,534.1 669.0,534.6 669.9,534.5 670.8,530.7 671.6,534.9 672.5,534.9 673.4,535.0 674.3,531.2 675.1,534.8 676.0,516.9 676.9,534.3 677.8,534.0 678.7,535.2 679.5,534.0 680.4,535.1 681.3,534.4 682.2,529.3 683.0,534.9 683.9,532.2 684.8,534.8 685.7,528.8 686.6,523.8 687.4,534.3 688.3,534.2 689.2,535.0 690.1,534.5 691.0,534.7 691.8,534.5 692.7,534.9 693.6,532.4 694.5,535.1 695.3,534.6 696.2,534.1 697.1,530.2 698.0,534.3 698.9,534.7 699.7,533.9 700.6,529.8 701.5,529.6 702.4,534.8 703.3,534.6 704.1,534.0 705.0,529.7 705.9,534.1 706.8,534.6 707.6,534.2 708.5,534.7 709.4,534.5 710.3,534.9 711.2,534.7 712.0,534.9 712.9,533.9 713.8,534.2 714.7,534.8 715.6,534.4 716.4,534.2 717.3,528.6 718.2,535.2 719.1,535.3 719.9,523.7 720.8,534.2 721.7,534.4 722.6,534.4 723.5,534.4 724.3,535.0 725.2,534.6 726.1,535.1 727.0,523.8 727.9,534.3 728.7,534.1 729.6,534.5 730.5,534.8 731.4,534.8 732.2,534.4 733.1,535.2 734.0,535.2 734.9,529.8 735.8,534.6 736.6,530.3 737.5,533.9 738.4,534.7 739.3,531.6 740.1,533.3 741.0,535.1 741.9,535.1 742.8,535.1 743.7,531.4 744.5,535.0 745.4,529.3 746.3,534.2 747.2,529.5 748.1,534.0 748.9,533.9 749.8,535.3 750.7,529.0 751.6,529.9 752.4,524.6 753.3,530.4 754.2,534.3 755.1,530.7 756.0,534.4 756.8,534.7 757.7,533.9 758.6,534.5 759.5,535.2 760.4,534.3 761.2,534.8 762.1,533.9 763.0,534.4 763.9,534.7 764.7,534.7 765.6,534.4 766.5,534.1 767.4,535.3 768.3,534.7 769.1,534.1 770.0,535.2 770.9,534.1 771.8,534.5 772.7,534.1 773.5,534.3 774.4,534.8 775.3,529.2 776.2,514.8 777.0,534.4 777.9,534.6 778.8,534.9 779.7,534.2 780.6,535.1 781.4,534.2 782.3,534.5 783.2,534.0 784.1,534.6 785.0,535.0 785.8,524.1 786.7,534.5 787.6,534.5 788.5,529.1 789.3,535.1 790.2,534.2 791.1,531.1 792.0,535.2 792.9,528.3 793.7,534.5 794.6,534.2 795.5,533.9 796.4,534.1 797.2,534.9 798.1,532.3 799.0,531.0 799.9,534.6 800.8,534.0 801.6,530.9 802.5,530.9 803.4,534.4 804.3,534.3 805.2,534.6 806.0,527.8 806.9,535.2 807.8,534.8 808.7,534.0 809.5,535.2 810.4,534.3 811.3,533.9 812.2,530.0 813.1,534.3 813.9,534.4 814.8,535.1 815.7,534.9 816.6,532.0 817.5,535.1 818.3,535.3 819.2,535.0 820.1,531.1 821.0,534.0 821.8,535.1 822.7,535.1 823.6,534.1 824.5,534.6 825.4,534.1 826.2,534.4 827.1,532.8 828.0,534.5 828.9,531.0 829.8,535.1 830.6,534.1 831.5,535.0 832.4,534.8 833.3,535.1 834.1,535.2 835.0,534.3 835.9,534.6 836.8,534.9 837.7,514.9 838.5,534.0 839.4,529.2 840.3,531.1 841.2,535.2 842.1,534.8 842.9,529.9 843.8,535.0 844.7,534.0 845.6,534.5 846.4,529.9 847.3,535.0 848.2,530.7 849.1,534.9 850.0,534.4 850.8,534.1 851.7,535.0 852.6,530.6 853.5,535.2 854.4,534.8 855.2,534.1 856.1,535.2 857.0,534.6 857.9,534.9 858.7,525.5 859.6,524.6 860.5,530.8 861.4,535.1 862.3,534.1 863.1,534.8 864.0,534.7 864.9,535.2 865.8,533.9 866.6,534.5 867.5,534.5 868.4,531.1 869.3,527.3 870.2,535.2 871.0,531.6 871.9,530.1 872.8,534.3 873.7,529.1 874.6,531.1 875.4,534.9 876.3,532.2 877.2,534.1 878.1,529.4 878.9,521.6 879.8,534.7 880.7,534.5 881.6,533.9 882.5,534.8 883.3,534.8 884.2,533.9 885.1,534.0 886.0,534.1 886.9,528.6 887.7,534.9 888.6,534.4 889.5,534.5 890.4,530.6 891.2,529.1 892.1,533.9 893.0,534.1 893.9,534.0 894.8,531.4 895.6,534.9 896.5,534.0 897.4,534.9 898.3,534.7 899.2,534.9 900.0,534.4 900.9,528.5 901.8,534.9 902.7,534.5 903.5,532.7 904.4,534.7 905.3,534.9 906.2,529.1 907.1,534.5 907.9,535.0 908.8,534.6 909.7,534.4 910.6,534.8 911.5,535.0 912.3,534.7 913.2,535.3 914.1,534.1 915.0,534.5 915.8,534.9 916.7,534.9 917.6,535.0 918.5,530.3 919.4,531.0 920.2,535.1 921.1,533.9 922.0,535.1 922.9,534.8 923.8,534.4 924.6,534.1 925.5,534.2 926.4,534.2 927.3,534.2 928.1,534.0 929.0,532.1 929.9,534.4 930.8,533.9 931.7,534.7 932.5,534.0 933.4,534.7 934.3,534.6 935.2,534.9 936.0,534.5 936.9,534.8 937.8,534.1 938.7,534.6 939.6,527.7 940.4,534.4 941.3,530.7 942.2,534.1 943.1,535.0 944.0,534.0 944.8,530.9 945.7,534.0 946.6,534.5 947.5,534.5 948.3,534.3 949.2,534.8 950.1,534.8 951.0,534.3 951.9,535.1 952.7,534.7 953.6,534.5 954.5,533.9 955.4,534.6 956.3,533.9 957.1,534.5 958.0,535.0 958.9,533.9 959.8,534.5 960.6,529.2 961.5,533.9 962.4,534.7 963.3,530.8 964.2,535.0 965.0,524.2 965.9,533.9 966.8,535.2 967.7,534.2 968.6,534.3 969.4,529.4 970.3,534.3 971.2,518.3 972.1,534.4 972.9,533.9 973.8,534.7 974.7,530.0 975.6,532.5 976.5,534.1 977.3,534.1 978.2,530.1 979.1,534.3 980.0,535.0 980.9,535.1 981.7,534.4 982.6,534.6 983.5,535.2 984.4,534.4 985.2,534.7 986.1,534.9 987.0,528.5 987.9,534.0 988.8,534.8 989.6,533.9 990.5,533.9 991.4,534.7 992.3,535.0 993.1,534.0 994.0,534.2 994.9,535.0 995.8,535.0 996.7,534.9 997.5,535.1 998.4,534.7 999.3,535.2 1000.2,530.7 1001.1,535.0 1001.9,534.9 1002.8,531.0 1003.7,532.0 1004.6,534.1 1005.4,529.2 1006.3,535.0 1007.2,534.3 1008.1,533.9 1009.0,533.9 1009.8,534.9 1010.7,535.1 1011.6,534.9 1012.5,534.4 1013.4,534.9 1014.2,535.0 1015.1,535.1 1016.0,534.5 1016.9,534.2 1017.7,534.3 1018.6,534.8 1019.5,535.1 1020.4,525.8 1021.3,535.1 1022.1,534.8 1023.0,534.9 1023.9,532.0 1024.8,531.2 1025.7,534.0 1026.5,534.0 1027.4,535.1 1028.3,535.2 1029.2,534.3 1030.0,534.7 1030.9,534.3 1031.8,534.1 1032.7,534.4 1033.6,522.8 1034.4,534.3 1035.3,532.6 1036.2,520.0 1037.1,530.3 1038.0,524.1 1038.8,534.9 1039.7,534.3 1040.6,535.3 1041.5,534.2 1042.3,535.2 1043.2,534.4 1044.1,532.6 1045.0,535.0 1045.9,534.2 1046.7,530.7 1047.6,534.1 1048.5,535.1 1049.4,534.7 1050.2,534.3 1051.1,534.1 1052.0,534.6 1052.9,530.6 1053.8,534.0 1054.6,532.1 1055.5,534.1 1056.4,534.5 1057.3,534.4 1058.2,534.9 1059.0,531.1 1059.9,522.0 1060.8,534.3 1061.7,534.9 1062.5,534.6 1063.4,534.8 1064.3,534.0 1065.2,531.2 1066.1,534.5 1066.9,535.0 1067.8,534.4 1068.7,534.2 1069.6,535.1 1070.5,534.8 1071.3,535.2 1072.2,535.0 1073.1,534.6 1074.0,531.0 1074.8,535.0 1075.7,529.2 1076.6,535.2 1077.5,533.9 1078.4,535.1 1079.2,534.7 1080.1,528.3 1081.0,534.4 1081.9,534.0 1082.8,534.9 1083.6,535.1 1084.5,528.7 1085.4,535.0 1086.3,534.1 1087.1,535.0 1088.0,534.1 1088.9,534.8 1089.8,525.8 1090.7,534.5 1091.5,534.1 1092.4,535.2 1093.3,534.4 1094.2,534.3 1095.1,533.9 1095.9,534.6 1096.8,530.5 1097.7,531.7 1098.6,533.9 1099.4,531.5 1100.3,528.1 1101.2,534.1 1102.1,534.7 1103.0,534.3 1103.8,534.7 1104.7,534.7 1105.6,534.1 1106.5,535.0 1107.4,534.6 1108.2,534.8 1109.1,520.7 1110.0,533.9 1110.9,534.0 1111.7,533.9 1112.6,534.1 1113.5,529.9 1114.4,534.5 1115.3,534.6 1116.1,534.8 1117.0,534.0 1117.9,530.3 1118.8,535.1 1119.6,534.7 1120.5,534.7 1121.4,534.5 1122.3,535.1 1123.2,524.2 1124.0,531.1 1124.9,531.6 1125.8,534.5 1126.7,534.5 1127.6,530.2 1128.4,532.5 1129.3,534.1 1130.2,534.3 1131.1,535.1 1131.9,534.3 1132.8,530.6 1133.7,524.0 1134.6,535.1 1135.5,535.2 1136.3,534.7 1137.2,531.7 1138.1,534.3 1139.0,534.0 1139.9,534.0 1140.7,534.0 1141.6,535.0 1142.5,534.8 1143.4,534.3 1144.2,535.1 1145.1,534.2 1146.0,534.3 1146.9,532.1 1147.8,534.1 1148.6,529.2 1149.5,535.0 1150.4,534.1 1151.3,535.1 1152.2,529.8 1153.0,526.4 1153.9,534.7 1154.8,529.9 1155.7,534.1 1156.5,535.3 1157.4,535.1 1158.3,534.0 1159.2,535.2 1160.1,523.4 1160.9,534.6 1161.8,530.5 1162.7,534.4 1163.6,532.0 1164.5,534.4 1165.3,531.6 1166.2,534.5 1167.1,534.8 1168.0,531.2 1168.8,528.6 1169.7,530.3 1170.6,534.9 1171.5,534.9 1172.4,534.5 1173.2,533.9 1174.1,529.3 1175.0,534.2 1175.9,534.4 1176.8,534.9 1177.6,534.0 1178.5,534.3 1179.4,534.2 1180.3,534.6 1181.1,534.8 1182.0,534.7 1182.9,531.5 1183.8,534.6 1184.7,534.9 1185.5,534.8 1186.4,529.7 1187.3,534.6 1188.2,534.8 1189.0,527.0 1189.9,534.2 1190.8,533.9 1191.7,534.0 1192.6,535.2 1193.4,521.6 1194.3,534.2 1195.2,534.0 1196.1,528.9 1197.0,534.9 1197.8,532.0 1198.7,535.0 1199.6,535.0 1200.5,534.1 1201.3,535.0 1202.2,533.9 1203.1,535.2 1204.0,534.0 1204.9,535.1 1205.7,522.4 1206.6,534.0 1207.5,534.8 1208.4,534.4 1209.3,534.3 1210.1,535.2 1211.0,535.2 1211.9,534.8 1212.8,534.4 1213.6,534.6 1214.5,529.7 1215.4,535.2 1216.3,534.2 1217.2,535.1 1218.0,529.9 1218.9,530.5 1219.8,534.4 1220.7,534.3 1221.6,534.8 1222.4,534.9 1223.3,534.2 1224.2,534.8 1225.1,533.9 1225.9,534.9 1226.8,533.9 1227.7,531.4 1228.6,534.2 1229.5,533.9 1230.3,534.2 1231.2,532.8 1232.1,530.3 1233.0,525.3 1233.9,530.0 1234.7,535.0 1235.6,531.3 1236.5,534.6 1237.4,534.8 1238.2,534.6 1239.1,534.0 1240.0,532.1 1240.9,534.7 1241.8,535.2 1242.6,534.7 1243.5,533.9 1244.4,535.0 1245.3,534.9 1246.1,534.9 1247.0,517.2 1247.9,533.9 1248.8,534.5 1249.7,528.5 1250.5,534.2 1251.4,534.9 1252.3,534.6 1253.2,535.0 1254.1,534.4 1254.9,534.5 1255.8,535.0 1256.7,534.8 1257.6,534.1 1258.4,521.2 1259.3,535.2 1260.2,532.0 1261.1,535.1 1262.0,535.1 1262.8,527.6 1263.7,534.0 1264.6,534.0 1265.5,535.2 1266.4,534.2 1267.2,535.2 1268.1,534.9 1269.0,535.1 1269.9,530.7 1270.7,535.1 1271.6,535.1 1272.5,535.0 1273.4,535.1 1274.3,534.6 1275.1,530.8 1276.0,534.8 1276.9,533.9 1277.8,534.2 1278.7,535.0 1279.5,535.2 1280.4,530.9 1281.3,534.8 1282.2,529.7 1283.0,534.5 1283.9,533.9 1284.8,534.3 1285.7,534.8 1286.6,533.9 1287.4,534.7 1288.3,535.1 1289.2,535.3 1290.1,534.0 1291.0,534.4 1291.8,534.9 1292.7,516.4 1293.6,534.0 1294.5,531.0 1295.3,534.5 1296.2,533.9 1297.1,528.7 1298.0,534.4 1298.9,534.9 1299.7,534.2 1300.6,534.3 1301.5,534.5 1302.4,534.3 1303.2,534.4 1304.1,535.0 1305.0,534.9 1305.9,534.6 1306.8,534.5 1307.6,535.0 1308.5,529.8 1309.4,534.5 1310.3,534.9 1311.2,524.9 1312.0,534.1 1312.9,534.0 1313.8,486.6 1314.7,511.3 1315.5,532.6 1316.4,534.1 1317.3,534.6 1318.2,528.6 1319.1,534.6 1319.9,534.1 1320.8,535.1 1321.7,534.8 1322.6,534.9 1323.5,534.8 1324.3,535.2 1325.2,522.2 1326.1,526.3 1327.0,534.9 1327.8,535.1 1328.7,534.1 1329.6,516.4 1330.5,534.7 1331.4,531.2 1332.2,534.9 1333.1,534.4 1334.0,534.8 1334.9,534.5 1335.8,535.0 1336.6,534.3 1337.5,534.3 1338.4,535.2 1339.3,534.7 1340.1,534.6 1341.0,534.2 1341.9,530.6 1342.8,534.1 1343.7,534.6 1344.5,534.6 1345.4,534.5 1346.3,534.3 1347.2,534.7 1348.1,530.1 1348.9,534.2 1349.8,532.8 1350.7,535.1 1351.6,529.9 1352.4,529.4 1353.3,535.2 1354.2,534.7 1355.1,533.9 1356.0,534.0 1356.8,530.7 1357.7,530.8 1358.6,534.8 1359.5,534.1 1360.4,534.5 1361.2,535.2 1362.1,534.0 1363.0,534.1 1363.9,535.0 1364.7,531.1 1365.6,527.5 101.5,535.0 102.4,535.0 103.3,534.5 104.1,530.7 105.0,534.5 105.9,534.9 106.8,534.9 107.6,534.1 108.5,534.6 109.4,534.6 110.3,535.2 111.2,534.4 112.0,531.9 112.9,535.0 113.8,534.5 114.7,534.6 115.6,534.3 116.4,535.0 117.3,535.1 118.2,535.0 119.1,529.9 119.9,534.7 120.8,517.2 121.7,534.3 122.6,530.4 123.5,531.0 124.3,534.4 125.2,534.5 126.1,530.7 127.0,535.1 127.9,533.9 128.7,535.2 129.6,534.4 130.5,534.5 131.4,529.7 132.2,534.3 133.1,531.7 134.0,533.9 134.9,534.5 135.8,534.8 136.6,534.6 137.5,535.1 138.4,534.1 139.3,534.5 140.2,521.4 141.0,534.1 141.9,534.0 142.8,528.5 143.7,533.9 144.5,535.2 145.4,534.6 146.3,534.2 147.2,526.0 148.1,532.2 148.9,534.2 149.8,534.6"/>
<path class="c" stroke="#00c000" d="M154,534.5 L207.5,528.5 M154,534.5 L206,533.5"/>
<polyline class="c" stroke="#0080ff" points="210.4,536.9 211.3,535.4 212.2,537.2 213.1,535.9 213.9,533.6 214.8,537.1 215.7,536.2 216.6,526.5 217.5,528.0 218.3,526.7 219.2,536.2 220.1,535.3 221.0,537.2 221.9,535.7 222.7,534.3 223.6,537.1 224.5,536.3 225.4,527.0 226.2,528.2 227.1,527.3 228.0,536.1 228.9,535.2 229.8,537.2 230.6,536.4 231.5,533.8 232.4,536.1 233.3,535.9 234.1,526.9 235.0,527.2 235.9,527.6 236.8,535.5 237.7,534.6 238.5,536.2 239.4,535.3 240.3,527.6 241.2,536.8 242.1,536.6 242.9,526.7 243.8,528.0 244.7,527.8 245.6,536.6 246.4,534.1 247.3,536.3 248.2,535.7 249.1,533.3 250.0,536.5 250.8,535.8 251.7,526.6 252.6,527.2 253.5,527.8 254.4,536.0 255.2,535.3 256.1,536.1 257.0,535.4 257.9,533.4 258.7,536.8 259.6,535.6 260.5,527.3 261.4,527.5 262.3,527.8 263.1,535.8 264.0,534.3 264.9,537.1 265.8,536.1 266.7,533.3 267.5,536.4 268.4,535.6 269.3,526.8 270.2,527.1 271.0,527.9 271.9,535.7 272.8,534.7 273.7,532.4 274.6,536.4 275.4,533.4 276.3,536.5 277.2,536.2 278.1,527.3 279.0,527.3 279.8,527.9 280.7,535.9 281.6,534.6 282.5,537.2 283.3,536.4 284.2,534.3 285.1,536.0 286.0,536.4 286.9,526.9 287.7,527.7 288.6,526.6 289.5,535.5 290.4,534.3 291.2,534.1 292.1,535.1 293.0,533.4 293.9,536.9 294.8,535.9 295.6,527.0 296.5,526.9 297.4,527.0 298.3,536.0 299.2,534.2 300.0,536.5 300.9,535.9 301.8,533.6 302.7,536.7 303.5,535.3 304.4,526.6 305.3,527.4 306.2,526.9 307.1,535.9 307.9,535.5 308.8,537.2 309.7,535.2 310.6,533.7 311.5,537.3 312.3,535.6 313.2,527.4 314.1,527.8 315.0,527.4 315.8,536.0 316.7,534.6 317.6,536.0 318.5,535.5 319.4,534.3 320.2,536.2 321.1,536.2 322.0,527.0 322.9,528.0 323.8,527.7 324.6,536.8 325.5,535.0 326.4,536.0 327.3,536.0 328.1,534.3 329.0,536.8 329.9,536.3 330.8,527.2 331.7,527.8 332.5,526.7 333.4,535.7 334.3,534.4 335.2,537.2 336.1,535.8 336.9,533.6 337.8,537.0 338.7,535.4 339.6,527.3 340.4,527.9 341.3,527.9 342.2,536.1 343.1,534.2 344.0,537.0 344.8,535.7 345.7,533.6 346.6,536.2 347.5,536.2 348.4,526.4 349.2,527.2 350.1,527.4 351.0,535.9 351.9,535.0 352.7,536.9 353.6,535.2 354.5,533.8 355.4,536.1 356.3,536.2 357.1,527.2 358.0,527.0 358.9,527.2 359.8,536.1 360.6,534.3 361.5,536.2 362.4,535.5 363.3,533.9 364.2,536.1 365.0,535.5 365.9,526.5 366.8,527.2 367.7,527.1 368.6,536.8 369.4,534.3 370.3,537.1 371.2,536.3 372.1,533.2 372.9,536.9 373.8,536.6 374.7,522.9 375.6,528.0 376.5,527.9 377.3,536.1 378.2,535.4 379.1,537.2 380.0,535.6 380.9,534.1 381.7,537.1 382.6,536.4 383.5,526.6 384.4,528.2 385.2,527.9 386.1,536.3 387.0,534.6 387.9,536.6 388.8,535.7 389.6,534.2 390.5,536.0 391.4,535.3 392.3,526.4 393.2,527.5 394.0,527.3 394.9,535.9 395.8,535.0 396.7,536.8 397.5,536.2 398.4,533.8 399.3,537.1 400.2,536.4 401.1,527.0 401.9,526.8 402.8,526.6 403.7,535.9 404.6,535.4 405.5,537.4 406.3,535.4 407.2,534.2 408.1,537.2 409.0,535.3 409.8,527.7 410.7,527.7 411.6,526.9 412.5,536.8 413.4,535.3 414.2,536.7 415.1,535.2 416.0,533.9 416.9,537.2 417.8,535.9 418.6,527.5 419.5,528.2 420.4,527.0 421.3,535.5 422.1,534.5 423.0,536.2 423.9,533.5 424.8,533.7 425.7,537.4 426.5,535.6 427.4,527.7 428.3,527.5 429.2,527.5 430.0,535.7 430.9,534.6 431.8,537.0 432.7,535.9 433.6,533.7 434.4,537.1 435.3,535.9 436.2,526.8 437.1,528.1 438.0,527.9 438.8,536.4 439.7,534.5 440.6,536.5 441.5,535.8 442.3,533.3 443.2,537.3 444.1,535.3 445.0,527.2 445.9,527.1 446.7,526.9 447.6,536.8 448.5,534.4 449.4,537.3 450.3,535.1 451.1,533.6 452.0,536.5 452.9,536.3 453.8,527.7 454.6,528.1 455.5,527.0 456.4,535.8 457.3,534.8 458.2,536.3 459.0,529.9 459.9,533.8 460.8,536.7 461.7,535.8 462.6,527.6 463.4,527.5 464.3,522.6 465.2,536.9 466.1,534.4 466.9,537.2 467.8,536.2 468.7,534.4 469.6,536.6 470.5,536.5 471.3,526.6 472.2,528.1 473.1,527.6 474.0,536.7 474.9,534.1 475.7,537.4 476.6,536.3 477.5,533.7 478.4,536.7 479.2,535.8 480.1,526.5 481.0,527.1 481.9,526.8 482.8,536.9 483.6,534.3 484.5,536.1 485.4,535.1 486.3,533.6 487.1,537.0 488.0,536.2 488.9,527.1 489.8,527.3 490.7,526.9 491.5,535.5 492.4,535.1 493.3,534.0 494.2,535.2 495.1,534.1 495.9,536.3 496.8,535.6 497.7,527.6 498.6,527.8 499.4,527.5 500.3,535.6 501.2,534.8 502.1,536.6 503.0,535.9 503.8,533.6 504.7,537.3 505.6,536.3 506.5,527.7 507.4,527.2 508.2,527.7 509.1,535.9 510.0,534.5 510.9,537.0 511.7,536.4 512.6,534.3 513.5,536.0 514.4,535.8 515.3,526.9 516.1,527.8 517.0,524.6 517.9,536.7 518.8,534.8 519.7,536.4 520.5,535.4 521.4,534.4 522.3,536.8 523.2,536.1 524.0,527.6 524.9,527.7 525.8,527.9 526.7,536.6 527.6,534.4 528.4,534.4 529.3,535.2 530.2,533.6 531.1,536.5 532.0,536.5 532.8,526.4 533.7,527.3 534.6,527.7 535.5,536.9 536.3,535.3 537.2,536.9 538.1,536.2 539.0,534.2 539.9,536.6 540.7,536.3 541.6,527.3 542.5,527.1 543.4,527.7 544.2,536.4 545.1,534.6 546.0,536.2 546.9,535.5 547.8,530.6 548.6,537.2 549.5,535.7 550.4,527.6 551.3,528.0 552.2,527.4 553.0,536.8 553.9,534.8 554.8,536.6 555.7,536.1 556.5,533.8 557.4,536.0 558.3,536.5 559.2,527.0 560.1,528.0 560.9,527.7 561.8,536.5 562.7,534.9 563.6,537.3 564.5,536.0 565.3,533.6 566.2,537.2 567.1,536.0 568.0,527.7 568.8,523.7 569.7,526.9 570.6,536.6 571.5,534.7 572.4,537.2 573.2,535.1 574.1,533.4 575.0,536.1 575.9,536.4 576.8,526.5 577.6,527.9 578.5,527.4 579.4,536.6 580.3,534.7 581.1,536.8 582.0,536.4 582.9,534.2 583.8,536.7 584.7,536.0 585.5,526.9 586.4,527.0 587.3,526.6 588.2,536.6 589.1,535.1 589.9,536.9 590.8,536.4 591.7,534.3 592.6,537.4 593.4,536.3 594.3,527.0 595.2,528.0 596.1,527.8 597.0,536.7 597.8,534.8 598.7,536.1 599.6,536.1 600.5,533.7 601.4,536.8 602.2,535.7 603.1,526.4 604.0,526.9 604.9,527.9 605.7,533.7 606.6,535.1 607.5,536.2 608.4,535.7 609.3,533.4 610.1,536.7 611.0,536.3 611.9,526.9 612.8,527.0 613.6,527.7 614.5,535.6 615.4,535.2 616.3,537.0 617.2,535.9 618.0,533.6 618.9,536.3 619.8,536.0 620.7,522.8 621.6,527.3 622.4,527.1 623.3,535.6 624.2,535.2 625.1,536.0 625.9,535.9 626.8,533.3 627.7,536.3 628.6,535.7 629.5,527.6 630.3,527.9 631.2,527.9 632.1,536.3 633.0,535.4 633.9,536.1 634.7,535.9 635.6,533.9 636.5,532.1 637.4,536.5 638.2,526.4 639.1,527.0 640.0,527.1 640.9,535.6 641.8,534.4 642.6,537.0 643.5,535.6 644.4,533.3 645.3,533.1 646.2,535.7 647.0,525.1 647.9,524.4 648.8,527.6 649.7,533.2 650.5,534.2 651.4,537.2 652.3,535.7 653.2,534.0 654.1,537.0 654.9,536.6 655.8,527.6 656.7,527.2 657.6,526.9 658.5,536.4 659.3,535.2 660.2,536.6 661.1,536.2 662.0,534.0 662.8,537.1 663.7,535.5 664.6,526.9 665.5,527.2 666.4,526.9 667.2,536.8 668.1,534.7 669.0,537.1 669.9,536.3 670.8,534.2 671.6,536.8 672.5,535.7 673.4,526.7 674.3,527.8 675.1,527.0 676.0,535.6 676.9,535.1 677.8,537.0 678.7,536.1 679.5,533.4 680.4,536.0 681.3,536.2 682.2,526.7 683.0,527.4 683.9,527.9 684.8,536.7 685.7,534.3 686.6,537.1 687.4,535.7 688.3,534.1 689.2,536.6 690.1,536.5 691.0,527.2 691.8,527.9 692.7,527.7 693.6,536.2 694.5,534.4 695.3,536.8 696.2,535.1 697.1,534.4 698.0,536.5 698.9,536.6 699.7,526.5 700.6,527.6 701.5,527.6 702.4,535.9 703.3,534.9 704.1,536.8 705.0,535.1 705.9,534.2 706.8,537.2 707.6,536.6 708.5,527.0 709.4,528.0 710.3,526.9 711.2,536.4 712.0,535.2 712.9,537.2 713.8,535.4 714.7,533.3 715.6,536.0 716.4,536.3 717.3,526.7 718.2,528.0 719.1,526.6 719.9,535.8 720.8,535.2 721.7,536.7 722.6,536.2 723.5,534.1 724.3,536.3 725.2,536.4 726.1,526.6 727.0,522.5 727.9,527.1 728.7,535.6 729.6,534.3 730.5,537.0 731.4,535.9 732.2,534.0 733.1,537.1 734.0,536.1 734.9,526.5 735.8,527.9 736.6,526.9 737.5,535.9 738.4,534.4 739.3,536.5 740.1,535.3 741.0,533.8 741.9,536.2 742.8,535.5 743.7,526.5 744.5,526.9 745.4,527.0 746.3,536.8 747.2,534.7 748.1,536.9 748.9,535.3 749.8,534.3 750.7,537.0 751.6,531.2 752.4,527.4 753.3,528.1 754.2,527.7 755.1,536.3 756.0,534.2 756.8,536.5 757.7,535.8 758.6,533.5 759.5,536.2 760.4,536.5 761.2,526.6 762.1,527.5 763.0,526.7 763.9,536.6 764.7,535.0 765.6,536.4 766.5,535.2 767.4,533.7 768.3,536.4 769.1,536.5 770.0,526.6 770.9,527.7 771.8,526.9 772.7,536.6 773.5,534.1 774.4,536.8 775.3,535.1 776.2,534.1 777.0,536.4 777.9,535.9 778.8,526.8 779.7,526.9 780.6,527.2 781.4,536.7 782.3,534.7 783.2,536.2 784.1,535.1 785.0,534.5 785.8,536.1 786.7,535.3 787.6,526.4 788.5,528.0 789.3,526.9 790.2,536.1 791.1,535.1 792.0,536.7 792.9,533.1 793.7,533.6 794.6,537.1 795.5,536.0 796.4,526.9 797.2,527.9 798.1,527.0 799.0,535.9 799.9,535.1 800.8,536.1 801.6,535.1 802.5,534.4 803.4,536.3 804.3,536.5 805.2,526.8 806.0,527.7 806.9,527.6 807.8,536.7 808.7,534.6 809.5,537.2 810.4,536.3 811.3,534.1 812.2,537.1 813.1,536.1 813.9,527.1 814.8,527.6 815.7,527.2 816.6,536.7 817.5,534.5 818.3,536.8 819.2,535.8 820.1,533.6 821.0,537.2 821.8,530.6 822.7,526.7 823.6,527.3 824.5,527.4 825.4,536.5 826.2,534.6 827.1,536.0 828.0,535.9 828.9,533.4 829.8,536.4 830.6,535.3 831.5,527.2 832.4,528.1 833.3,523.7 834.1,536.2 835.0,535.0 835.9,536.9 836.8,535.1 837.7,533.9 838.5,536.8 839.4,535.6 840.3,527.2 841.2,527.7 842.1,527.2 842.9,536.4 843.8,535.3 844.7,537.4 845.6,536.4 846.4,534.4 847.3,537.3 848.2,535.6 849.1,526.5 850.0,527.4 850.8,527.9 851.7,536.3 852.6,534.5 853.5,536.8 854.4,535.2 855.2,533.7 856.1,537.3 857.0,531.8 857.9,526.9 858.7,528.0 859.6,527.1 860.5,535.5 861.4,534.1 862.3,536.8 863.1,536.1 864.0,533.2 864.9,537.1 865.8,536.5 866.6,526.7 867.5,527.5 868.4,527.9 869.3,535.8 870.2,534.9 871.0,536.5 871.9,535.9 872.8,533.4 873.7,536.6 874.6,536.4 875.4,521.7 876.3,527.1 877.2,528.0 878.1,536.3 878.9,534.7 879.8,536.8 880.7,535.1 881.6,533.7 882.5,536.9 883.3,535.4 884.2,526.6 885.1,526.8 886.0,527.5 886.9,536.5 887.7,535.3 888.6,536.7 889.5,535.1 890.4,533.3 891.2,537.2 892.1,535.9 893.0,526.9 893.9,526.9 894.8,526.9 895.6,536.5 896.5,534.3 897.4,536.4 898.3,535.4 899.2,534.4 900.0,536.4 900.9,535.8 901.8,527.2 902.7,526.9 903.5,527.4 904.4,535.8 905.3,534.9 906.2,536.8 907.1,535.8 907.9,533.5 908.8,536.4 909.7,535.3 910.6,526.7 911.5,527.3 912.3,527.6 913.2,536.9 914.1,535.4 915.0,536.1 915.8,535.8 916.7,533.6 917.6,536.9 918.5,536.4 919.4,526.6 920.2,528.0 921.1,527.5 922.0,535.6 922.9,534.4 923.8,536.1 924.6,535.2 925.5,533.2 926.4,536.5 927.3,535.5 928.1,527.6 929.0,527.1 929.9,526.9 930.8,536.3 931.7,534.1 932.5,537.2 933.4,535.7 934.3,534.3 935.2,536.7 936.0,536.3 936.9,527.0 937.8,527.4 938.7,526.7 939.6,535.6 940.4,535.3 941.3,536.0 942.2,535.7 943.1,534.5 944.0,537.2 944.8,535.8 945.7,526.4 946.6,527.7 947.5,527.1 948.3,535.7 949.2,535.0 950.1,537.0 951.0,536.1 951.9,530.4 952.7,537.1 953.6,536.5 954.5,526.8 955.4,526.9 956.3,527.0 957.1,536.9 958.0,534.9 958.9,536.9 959.8,536.4 960.6,533.3 961.5,533.5 962.4,536.4 963.3,527.6 964.2,527.8 965.0,527.3 965.9,535.6 966.8,534.5 967.7,536.2 968.6,536.3 969.4,534.2 970.3,536.9 971.2,535.3 972.1,526.3 972.9,527.3 973.8,527.0 974.7,536.4 975.6,535.1 976.5,537.2 977.3,535.6 978.2,534.3 979.1,536.6 980.0,536.1 980.9,527.7 981.7,527.6 982.6,526.9 983.5,535.8 984.4,535.4 985.2,536.8 986.1,535.4 987.0,533.6 987.9,536.7 988.8,535.4 989.6,527.5 990.5,528.1 991.4,527.9 992.3,536.3 993.1,534.8 994.0,537.0 994.9,536.0 995.8,533.3 996.7,536.8 997.5,536.6 998.4,526.6 999.3,528.0 1000.2,527.9 1001.1,536.4 1001.9,534.5 1002.8,536.7 1003.7,535.5 1004.6,533.6 1005.4,533.3 1006.3,536.1 1007.2,527.6 1008.1,526.8 1009.0,527.6 1009.8,536.6 1010.7,534.5 1011.6,537.2 1012.5,535.7 1013.4,533.3 1014.2,536.7 1015.1,536.4 1016.0,527.1 1016.9,527.8 1017.7,526.8 1018.6,536.7 1019.5,535.3 1020.4,536.4 1021.3,535.1 1022.1,533.6 1023.0,537.2 1023.9,536.6 1024.8,526.7 1025.7,527.2 1026.5,527.0 1027.4,535.5 1028.3,535.5 1029.2,536.4 1030.0,535.5 1030.9,533.3 1031.8,537.2 1032.7,533.7 1033.6,527.3 1034.4,526.8 1035.3,526.7 1036.2,535.7 1037.1,534.1 1038.0,536.0 1038.8,536.2 1039.7,533.9 1040.6,536.9 1041.5,535.9 1042.3,527.4 1043.2,527.5 1044.1,527.0 1045.0,536.2 1045.9,534.4 1046.7,536.3 1047.6,536.1 1048.5,533.8 1049.4,537.0 1050.2,535.7 1051.1,527.1 1052.0,527.9 1052.9,527.5 1053.8,536.4 1054.6,534.5 1055.5,537.1 1056.4,535.5 1057.3,533.7 1058.2,537.0 1059.0,536.2 1059.9,526.4 1060.8,527.3 1061.7,526.9 1062.5,536.4 1063.4,534.4 1064.3,536.7 1065.2,536.1 1066.1,533.6 1066.9,536.2 1067.8,536.1 1068.7,527.3 1069.6,528.0 1070.5,527.6 1071.3,535.7 1072.2,534.3 1073.1,536.8 1074.0,535.4 1074.8,534.4 1075.7,536.8 1076.6,535.8 1077.5,527.7 1078.4,524.3 1079.2,526.9 1080.1,536.0 1081.0,530.7 1081.9,536.5 1082.8,536.2 1083.6,533.3 1084.5,536.6 1085.4,536.2 1086.3,527.3 1087.1,527.4 1088.0,527.8 1088.9,536.5 1089.8,535.0 1090.7,537.2 1091.5,536.1 1092.4,534.2 1093.3,536.9 1094.2,535.6 1095.1,527.4 1095.9,527.5 1096.8,527.9 1097.7,536.6 1098.6,534.4 1099.4,536.6 1100.3,535.3 1101.2,534.2 1102.1,536.8 1103.0,536.6 1103.8,525.2 1104.7,528.1 1105.6,527.4 1106.5,536.5 1107.4,534.8 1108.2,537.1 1109.1,535.7 1110.0,533.4 1110.9,536.1 1111.7,536.2 1112.6,527.0 1113.5,528.1 1114.4,527.5 1115.3,536.0 1116.1,535.0 1117.0,536.2 1117.9,535.9 1118.8,534.1 1119.6,537.2 1120.5,535.7 1121.4,527.2 1122.3,527.1 1123.2,526.8 1124.0,533.1 1124.9,534.2 1125.8,536.4 1126.7,535.8 1127.6,534.3 1128.4,536.4 1129.3,535.8 1130.2,526.9 1131.1,527.5 1131.9,527.2 1132.8,536.2 1133.7,535.3 1134.6,536.4 1135.5,535.6 1136.3,533.8 1137.2,536.8 1138.1,535.9 1139.0,527.2 1139.9,526.9 1140.7,527.1 1141.6,536.1 1142.5,534.2 1143.4,536.4 1144.2,535.3 1145.1,533.4 1146.0,537.4 1146.9,536.1 1147.8,526.8 1148.6,527.0 1149.5,526.7 1150.4,536.9 1151.3,535.4 1152.2,536.5 1153.0,536.2 1153.9,534.2 1154.8,536.1 1155.7,535.3 1156.5,526.6 1157.4,526.9 1158.3,527.0 1159.2,536.8 1160.1,534.7 1160.9,536.2 1161.8,535.5 1162.7,533.5 1163.6,537.1 1164.5,536.3 1165.3,526.6 1166.2,527.2 1167.1,527.7 1168.0,535.6 1168.8,534.8 1169.7,537.3 1170.6,535.4 1171.5,534.1 1172.4,536.9 1173.2,535.8 1174.1,527.0 1175.0,526.9 1175.9,527.3 1176.8,536.6 1177.6,535.0 1178.5,537.3 1179.4,535.5 1180.3,534.0 1181.1,537.1 1182.0,536.7 1182.9,527.4 1183.8,527.4 1184.7,527.1 1185.5,535.8 1186.4,534.3 1187.3,536.4 1188.2,535.8 1189.0,533.2 1189.9,537.2 1190.8,536.0 1191.7,527.4 1192.6,527.7 1193.4,527.7 1194.3,536.6 1195.2,534.7 1196.1,536.7 1197.0,536.4 1197.8,534.3 1198.7,536.3 1199.6,535.9 1200.5,526.6 1201.3,527.2 1202.2,527.2 1203.1,536.4 1204.0,535.4 1204.9,536.4 1205.7,535.7 1206.6,534.4 1207.5,536.2 1208.4,536.3 1209.3,527.4 1210.1,527.5 1211.0,527.6 1211.9,536.4 1212.8,534.5 1213.6,533.9 1214.5,536.3 1215.4,533.5 1216.3,537.1 1217.2,535.6 1218.0,526.4 1218.9,527.8 1219.8,526.6 1220.7,536.3 1221.6,534.4 1222.4,536.7 1223.3,535.9 1224.2,534.0 1225.1,536.6 1225.9,535.9 1226.8,527.0 1227.7,528.1 1228.6,526.7 1229.5,536.9 1230.3,534.6 1231.2,536.7 1232.1,536.0 1233.0,533.5 1233.9,536.5 1234.7,532.1 1235.6,527.3 1236.5,527.7 1237.4,527.0 1238.2,535.8 1239.1,534.7 1240.0,537.2 1240.9,536.3 1241.8,534.5 1242.6,536.9 1243.5,536.1 1244.4,527.2 1245.3,527.5 1246.1,526.6 1247.0,536.3 1247.9,534.1 1248.8,536.5 1249.7,535.9 1250.5,534.2 1251.4,537.3 1252.3,535.4 1253.2,527.1 1254.1,527.8 1254.9,527.3 1255.8,535.6 1256.7,535.2 1257.6,536.8 1258.4,535.8 1259.3,534.1 1260.2,536.4 1261.1,535.4 1262.0,527.3 1262.8,528.2 1263.7,527.8 1264.6,536.9 1265.5,535.2 1266.4,537.3 1267.2,535.7 1268.1,533.4 1269.0,537.0 1269.9,535.5 1270.7,526.7 1271.6,526.9 1272.5,527.1 1273.4,536.8 1274.3,534.5 1275.1,536.4 1276.0,535.7 1276.9,533.9 1277.8,536.6 1278.7,536.3 1279.5,527.6 1280.4,527.5 1281.3,527.8 1282.2,536.2 1283.0,535.0 1283.9,536.1 1284.8,535.1 1285.7,533.2 1286.6,537.0 1287.4,535.8 1288.3,526.3 1289.2,527.1 1290.1,527.9 1291.0,536.7 1291.8,534.6 1292.7,536.7 1293.6,536.3 1294.5,534.4 1295.3,536.5 1296.2,536.6 1297.1,526.4 1298.0,527.6 1298.9,527.0 1299.7,536.0 1300.6,534.7 1301.5,537.1 1302.4,535.1 1303.2,533.2 1304.1,536.2 1305.0,535.6 1305.9,526.4 1306.8,527.0 1307.6,526.9 1308.5,536.5 1309.4,534.4 1310.3,536.2 1311.2,536.2 1312.0,533.8 1312.9,536.9 1313.8,536.5 1314.7,527.4 1315.5,527.8 1316.4,527.6 1317.3,532.7 1318.2,529.6 1319.1,531.1 1319.9,536.1 1320.8,534.5 1321.7,536.4 1322.6,536.0 1323.5,527.3 1324.3,527.7 1325.2,526.7 1326.1,531.0 1327.0,534.4 1327.8,536.6 1328.7,536.2 1329.6,534.2 1330.5,537.1 1331.4,535.9 1332.2,526.9 1333.1,526.9 1334.0,527.2 1334.9,535.6 1335.8,535.4 1336.6,536.4 1337.5,535.5 1338.4,533.2 1339.3,536.8 1340.1,535.6 1341.0,527.6 1341.9,527.1 1342.8,527.0 1343.7,536.7 1344.5,534.8 1345.4,536.0 1346.3,535.8 1347.2,533.7 1348.1,536.0 1348.9,536.6 1349.8,527.7 1350.7,527.6 1351.6,527.4 1352.4,535.8 1353.3,535.2 1354.2,536.7 1355.1,535.5 1356.0,534.1 1356.8,536.0 1357.7,534.0 1358.6,527.7 1359.5,527.0 1360.4,526.6 1361.2,536.1 1362.1,535.5 1363.0,537.0 1363.9,536.4 1364.7,534.0 1365.6,536.2 101.5,536.2 102.4,526.9 103.3,527.4 104.1,526.6 105.0,536.9 105.9,534.6 106.8,536.1 107.6,535.2 108.5,533.8 109.4,537.0 110.3,535.8 111.2,527.0 112.0,527.4 112.9,527.2 113.8,536.9 114.7,534.7 115.6,536.0 116.4,535.8 117.3,533.8 118.2,532.9 119.1,535.4 119.9,526.6 120.8,527.3 121.7,527.6 122.6,536.6 123.5,534.8 124.3,536.9 125.2,535.1 126.1,533.2 127.0,536.7 127.9,536.2 128.7,527.5 129.6,527.1 130.5,528.0 131.4,536.2 132.2,535.3 133.1,536.8 134.0,535.1 134.9,534.1 135.8,537.2 136.6,535.7 137.5,527.6 138.4,527.5 139.3,526.8 140.2,536.6 141.0,534.4 141.9,537.4 142.8,535.3 143.7,533.5 144.5,536.5 145.4,535.3 146.3,526.6 147.2,527.8 148.1,527.0 148.9,536.1 149.8,535.2"/>
<path class="c" stroke="#ff0000" d="M1288,72.5H1345"/>
<path class="c" stroke="#00c000" d="M1288,91.5H1345"/>
<path class="c" stroke="#0080ff" d="M1288,110.5H1345"/>
<rect x="1310.5" y="123.5" width="12" height="12" fill="none" stroke="#c000ff" shape-rendering="crispEdges"/>
<rect x="1310.0" y="142.0" width="13" height="13" fill="#00eeee" shape-rendering="crispEdges"/>
<path shape-rendering="crispEdges" fill="#c04000" d="M1313,162 1320,162 1320,163 1321,163 1321,164 1322,164 1322,171 1321,171 1321,172 1320,172 1320,173 1313,173 1313,172 1312,172 1312,171 1311,171 1311,164 1312,164 1312,163 1313,163ZM1316,161h1v1h-1zM1316,173h1v1h-1zM1314,164 1313,164 1313,165 1312,165 1312,170 1313,170 1313,171 1314,171 1314,172 1319,172 1319,171 1320,171 1320,170 1321,170 1321,165 1320,165 1320,164 1319,164 1319,163 1314,163ZM1310,167h1v1h-1zM1322,167h1v1h-1z"/>
<path shape-rendering="crispEdges" fill="#c8c800" d="M1313,181 1320,181 1320,182 1321,182 1321,183 1322,183 1322,190 1321,190 1321,191 1320,191 1320,192 1313,192 1313,191 1312,191 1312,190 1311,190 1311,183 1312,183 1312,182 1313,182ZM1316,180h1v1h-1zM1316,192h1v1h-1z"/>
<polygon points="1316.5,197.5 1308.5,209.5 1324.5,209.5" fill="none" stroke="#4169e1" stroke-width="1" shape-rendering="crispEdges"/>
<polygon points="1316.5,216.5 1308.5,228.5 1324.5,228.5" fill="#ffc020" stroke="#ffc020" stroke-width="1" shape-rendering="crispEdges"/>
<path class="c" stroke="#008040" d="M1310.0,243.5h13 M1316.5,237.0v13"/>
<polygon points="1316.5,270.5 1308.5,258.5 1324.5,258.5" fill="none" stroke="#c080ff" stroke-width="1" shape-rendering="crispEdges"/>
<polygon points="1316.5,289.5 1308.5,277.5 1324.5,277.5" fill="none" stroke="#306080" stroke-width="1" shape-rendering="crispEdges"/>
<polygon points="206.5,340.5 198.5,328.5 214.5,328.5" fill="none" stroke="#c080ff" stroke-width="1" shape-rendering="crispEdges"/>
<polygon points="206.5,359.5 198.5,347.5 214.5,347.5" fill="none" stroke="#306080" stroke-width="1" shape-rendering="crispEdges"/>
<path class="c" stroke="#008040" d="M200.0,371.5h13 M206.5,365.0v13"/>
<polygon points="206.5,402.5 198.5,414.5 214.5,414.5" fill="#ffc020" stroke="#ffc020" stroke-width="1" shape-rendering="crispEdges"/>
<rect x="200.5" y="427.5" width="12" height="12" fill="none" stroke="#c000ff" shape-rendering="crispEdges"/>
<polygon points="206.5,456.5 198.5,468.5 214.5,468.5" fill="none" stroke="#4169e1" stroke-width="1" shape-rendering="crispEdges"/>
<rect x="200.0" y="481.0" width="13" height="13" fill="#00eeee" shape-rendering="crispEdges"/>
<rect x="206" y="533" width="1" height="1" fill="#000"/>
<path shape-rendering="crispEdges" fill="#c04000" d="M100,485 107,485 107,486 108,486 108,487 109,487 109,494 108,494 108,495 107,495 107,496 100,496 100,495 99,495 99,494 98,494 98,487 99,487 99,486 100,486ZM103,484h1v1h-1zM103,496h1v1h-1zM101,487 100,487 100,488 99,488 99,493 100,493 100,494 101,494 101,495 106,495 106,494 107,494 107,493 108,493 108,488 107,488 107,487 106,487 106,486 101,486ZM97,490h1v1h-1zM109,490h1v1h-1z M146,496 153,496 153,497 154,497 154,498 155,498 155,505 154,505 154,506 153,506 153,507 146,507 146,506 145,506 145,505 144,505 144,498 145,498 145,497 146,497ZM149,495h1v1h-1zM149,507h1v1h-1zM147,498 146,498 146,499 145,499 145,504 146,504 146,505 147,505 147,506 152,506 152,505 153,505 153,504 154,504 154,499 153,499 153,498 152,498 152,497 147,497ZM143,501h1v1h-1zM155,501h1v1h-1z M205,493 212,493 212,494 213,494 213,495 214,495 214,502 213,502 213,503 212,503 212,504 205,504 205,503 204,503 204,502 203,502 203,495 204,495 204,494 205,494ZM208,492h1v1h-1zM208,504h1v1h-1zM206,495 205,495 205,496 204,496 204,501 205,501 205,502 206,502 206,503 211,503 211,502 212,502 212,501 213,501 213,496 212,496 212,495 211,495 211,494 206,494ZM202,498h1v1h-1zM214,498h1v1h-1z M252,463 259,463 259,464 260,464 260,465 261,465 261,472 260,472 260,473 259,473 259,474 252,474 252,473 251,473 251,472 250,472 250,465 251,465 251,464 252,464ZM255,462h1v1h-1zM255,474h1v1h-1zM253,465 252,465 252,466 251,466 251,471 252,471 252,472 253,472 253,473 258,473 258,472 259,472 259,471 260,471 260,466 259,466 259,465 258,465 258,464 253,464ZM249,468h1v1h-1zM261,468h1v1h-1z M258,495 265,495 265,496 266,496 266,497 267,497 267,504 266,504 266,505 265,505 265,506 258,506 258,505 257,505 257,504 256,504 256,497 257,497 257,496 258,496ZM261,494h1v1h-1zM261,506h1v1h-1zM259,497 258,497 258,498 257,498 257,503 258,503 258,504 259,504 259,505 264,505 264,504 265,504 265,503 266,503 266,498 265,498 265,497 264,497 264,496 259,496ZM255,500h1v1h-1zM267,500h1v1h-1z M304,497 311,497 311,498 312,498 312,499 313,499 313,506 312,506 312,507 311,507 311,508 304,508 304,507 303,507 303,506 302,506 302,499 303,499 303,498 304,498ZM307,496h1v1h-1zM307,508h1v1h-1zM305,499 304,499 304,500 303,500 303,505 304,505 304,506 305,506 305,507 310,507 310,506 311,506 311,505 312,505 312,500 311,500 311,499 310,499 310,498 305,498ZM301,502h1v1h-1zM313,502h1v1h-1z M311,495 318,495 318,496 319,496 319,497 320,497 320,504 319,504 319,505 318,505 318,506 311,506 311,505 310,505 310,504 309,504 309,497 310,497 310,496 311,496ZM314,494h1v1h-1zM314,506h1v1h-1zM312,497 311,497 311,498 310,498 310,503 311,503 311,504 312,504 312,505 317,505 317,504 318,504 318,503 319,503 319,498 318,498 318,497 317,497 317,496 312,496ZM308,500h1v1h-1zM320,500h1v1h-1z M357,496 364,496 364,497 365,497 365,498 366,498 366,505 365,505 365,506 364,506 364,507 357,507 357,506 356,506 356,505 355,505 355,498 356,498 356,497 357,497ZM360,495h1v1h-1zM360,507h1v1h-1zM358,498 357,498 357,499 356,499 356,504 357,504 357,505 358,505 358,506 363,506 363,505 364,505 364,504 365,504 365,499 364,499 364,498 363,498 363,497 358,497ZM354,501h1v1h-1zM366,501h1v1h-1z M363,465 370,465 370,466 371,466 371,467 372,467 372,474 371,474 371,475 370,475 370,476 363,476 363,475 362,475 362,474 361,474 361,467 362,467 362,466 363,466ZM366,464h1v1h-1zM366,476h1v1h-1zM364,467 363,467 363,468 362,468 362,473 363,473 363,474 364,474 364,475 369,475 369,474 370,474 370,473 371,473 371,468 370,468 370,467 369,467 369,466 364,466ZM360,470h1v1h-1zM372,470h1v1h-1z M410,495 417,495 417,496 418,496 418,497 419,497 419,504 418,504 418,505 417,505 417,506 410,506 410,505 409,505 409,504 408,504 408,497 409,497 409,496 410,496ZM413,494h1v1h-1zM413,506h1v1h-1zM411,497 410,497 410,498 409,498 409,503 410,503 410,504 411,504 411,505 416,505 416,504 417,504 417,503 418,503 418,498 417,498 417,497 416,497 416,496 411,496ZM407,500h1v1h-1zM419,500h1v1h-1z M416,465 423,465 423,466 424,466 424,467 425,467 425,474 424,474 424,475 423,475 423,476 416,476 416,475 415,475 415,474 414,474 414,467 415,467 415,466 416,466ZM419,464h1v1h-1zM419,476h1v1h-1zM417,467 416,467 416,468 415,468 415,473 416,473 416,474 417,474 417,475 422,475 422,474 423,474 423,473 424,473 424,468 423,468 423,467 422,467 422,466 417,466ZM413,470h1v1h-1zM425,470h1v1h-1z M464,496 471,496 471,497 472,497 472,498 473,498 473,505 472,505 472,506 471,506 471,507 464,507 464,506 463,506 463,505 462,505 462,498 463,498 463,497 464,497ZM467,495h1v1h-1zM467,507h1v1h-1zM465,498 464,498 464,499 463,499 463,504 464,504 464,505 465,505 465,506 470,506 470,505 471,505 471,504 472,504 472,499 471,499 471,498 470,498 470,497 465,497ZM461,501h1v1h-1zM473,501h1v1h-1z M470,496 477,496 477,497 478,497 478,498 479,498 479,505 478,505 478,506 477,506 477,507 470,507 470,506 469,506 469,505 468,505 468,498 469,498 469,497 470,497ZM473,495h1v1h-1zM473,507h1v1h-1zM471,498 470,498 470,499 469,499 469,504 470,504 470,505 471,505 471,506 476,506 476,505 477,505 477,504 478,504 478,499 477,499 477,498 476,498 476,497 471,497ZM467,501h1v1h-1zM479,501h1v1h-1z M515,494 522,494 522,495 523,495 523,496 524,496 524,503 523,503 523,504 522,504 522,505 515,505 515,504 514,504 514,503 513,503 513,496 514,496 514,495 515,495ZM518,493h1v1h-1zM518,505h1v1h-1zM516,496 515,496 515,497 514,497 514,502 515,502 515,503 516,503 516,504 521,504 521,503 522,503 522,502 523,502 523,497 522,497 522,496 521,496 521,495 516,495ZM512,499h1v1h-1zM524,499h1v1h-1z M522,496 529,496 529,497 530,497 530,498 531,498 531,505 530,505 530,506 529,506 529,507 522,507 522,506 521,506 521,505 520,505 520,498 521,498 521,497 522,497ZM525,495h1v1h-1zM525,507h1v1h-1zM523,498 522,498 522,499 521,499 521,504 522,504 522,505 523,505 523,506 528,506 528,505 529,505 529,504 530,504 530,499 529,499 529,498 528,498 528,497 523,497ZM519,501h1v1h-1zM531,501h1v1h-1z M568,497 575,497 575,498 576,498 576,499 577,499 577,506 576,506 576,507 575,507 575,508 568,508 568,507 567,507 567,506 566,506 566,499 567,499 567,498 568,498ZM571,496h1v1h-1zM571,508h1v1h-1zM569,499 568,499 568,500 567,500 567,505 568,505 568,506 569,506 569,507 574,507 574,506 575,506 575,505 576,505 576,500 575,500 575,499 574,499 574,498 569,498ZM565,502h1v1h-1zM577,502h1v1h-1z M574,494 581,494 581,495 582,495 582,496 583,496 583,503 582,503 582,504 581,504 581,505 574,505 574,504 573,504 573,503 572,503 572,496 573,496 573,495 574,495ZM577,493h1v1h-1zM577,505h1v1h-1zM575,496 574,496 574,497 573,497 573,502 574,502 574,503 575,503 575,504 580,504 580,503 581,503 581,502 582,502 582,497 581,497 581,496 580,496 580,495 575,495ZM571,499h1v1h-1zM583,499h1v1h-1z M621,496 628,496 628,497 629,497 629,498 630,498 630,505 629,505 629,506 628,506 628,507 621,507 621,506 620,506 620,505 619,505 619,498 620,498 620,497 621,497ZM624,495h1v1h-1zM624,507h1v1h-1zM622,498 621,498 621,499 620,499 620,504 621,504 621,505 622,505 622,506 627,506 627,505 628,505 628,504 629,504 629,499 628,499 628,498 627,498 627,497 622,497ZM618,501h1v1h-1zM630,501h1v1h-1z M628,497 635,497 635,498 636,498 636,499 637,499 637,506 636,506 636,507 635,507 635,508 628,508 628,507 627,507 627,506 626,506 626,499 627,499 627,498 628,498ZM631,496h1v1h-1zM631,508h1v1h-1zM629,499 628,499 628,500 627,500 627,505 628,505 628,506 629,506 629,507 634,507 634,506 635,506 635,505 636,505 636,500 635,500 635,499 634,499 634,498 629,498ZM625,502h1v1h-1zM637,502h1v1h-1z M673,497 680,497 680,498 681,498 681,499 682,499 682,506 681,506 681,507 680,507 680,508 673,508 673,507 672,507 672,506 671,506 671,499 672,499 672,498 673,498ZM676,496h1v1h-1zM676,508h1v1h-1zM674,499 673,499 673,500 672,500 672,505 673,505 673,506 674,506 674,507 679,507 679,506 680,506 680,505 681,505 681,500 680,500 680,499 679,499 679,498 674,498ZM670,502h1v1h-1zM682,502h1v1h-1z M680,465 687,465 687,466 688,466 688,467 689,467 689,474 688,474 688,475 687,475 687,476 680,476 680,475 679,475 679,474 678,474 678,467 679,467 679,466 680,466ZM683,464h1v1h-1zM683,476h1v1h-1zM681,467 680,467 680,468 679,468 679,473 680,473 680,474 681,474 681,475 686,475 686,474 687,474 687,473 688,473 688,468 687,468 687,467 686,467 686,466 681,466ZM677,470h1v1h-1zM689,470h1v1h-1z M727,496 734,496 734,497 735,497 735,498 736,498 736,505 735,505 735,506 734,506 734,507 727,507 727,506 726,506 726,505 725,505 725,498 726,498 726,497 727,497ZM730,495h1v1h-1zM730,507h1v1h-1zM728,498 727,498 727,499 726,499 726,504 727,504 727,505 728,505 728,506 733,506 733,505 734,505 734,504 735,504 735,499 734,499 734,498 733,498 733,497 728,497ZM724,501h1v1h-1zM736,501h1v1h-1z M732,496 739,496 739,497 740,497 740,498 741,498 741,505 740,505 740,506 739,506 739,507 732,507 732,506 731,506 731,505 730,505 730,498 731,498 731,497 732,497ZM735,495h1v1h-1zM735,507h1v1h-1zM733,498 732,498 732,499 731,499 731,504 732,504 732,505 733,505 733,506 738,506 738,505 739,505 739,504 740,504 740,499 739,499 739,498 738,498 738,497 733,497ZM729,501h1v1h-1zM741,501h1v1h-1z M779,513 786,513 786,514 787,514 787,515 788,515 788,522 787,522 787,523 786,523 786,524 779,524 779,523 778,523 778,522 777,522 777,515 778,515 778,514 779,514ZM782,512h1v1h-1zM782,524h1v1h-1zM780,515 779,515 779,516 778,516 778,521 779,521 779,522 780,522 780,523 785,523 785,522 786,522 786,521 787,521 787,516 786,516 786,515 785,515 785,514 780,514ZM776,518h1v1h-1zM788,518h1v1h-1z M785,495 792,495 792,496 793,496 793,497 794,497 794,504 793,504 793,505 792,505 792,506 785,506 785,505 784,505 784,504 783,504 783,497 784,497 784,496 785,496ZM788,494h1v1h-1zM788,506h1v1h-1zM786,497 785,497 785,498 784,498 784,503 785,503 785,504 786,504 786,505 791,505 791,504 792,504 792,503 793,503 793,498 792,498 792,497 791,497 791,496 786,496ZM782,500h1v1h-1zM794,500h1v1h-1z M832,495 839,495 839,496 840,496 840,497 841,497 841,504 840,504 840,505 839,505 839,506 832,506 832,505 831,505 831,504 830,504 830,497 831,497 831,496 832,496ZM835,494h1v1h-1zM835,506h1v1h-1zM833,497 832,497 832,498 831,498 831,503 832,503 832,504 833,504 833,505 838,505 838,504 839,504 839,503 840,503 840,498 839,498 839,497 838,497 838,496 833,496ZM829,500h1v1h-1zM841,500h1v1h-1z M838,495 845,495 845,496 846,496 846,497 847,497 847,504 846,504 846,505 845,505 845,506 838,506 838,505 837,505 837,504 836,504 836,497 837,497 837,496 838,496ZM841,494h1v1h-1zM841,506h1v1h-1zM839,497 838,497 838,498 837,498 837,503 838,503 838,504 839,504 839,505 844,505 844,504 845,504 845,503 846,503 846,498 845,498 845,497 844,497 844,496 839,496ZM835,500h1v1h-1zM847,500h1v1h-1z M884,495 891,495 891,496 892,496 892,497 893,497 893,504 892,504 892,505 891,505 891,506 884,506 884,505 883,505 883,504 882,504 882,497 883,497 883,496 884,496ZM887,494h1v1h-1zM887,506h1v1h-1zM885,497 884,497 884,498 883,498 883,503 884,503 884,504 885,504 885,505 890,505 890,504 891,504 891,503 892,503 892,498 891,498 891,497 890,497 890,496 885,496ZM881,500h1v1h-1zM893,500h1v1h-1z M890,494 897,494 897,495 898,495 898,496 899,496 899,503 898,503 898,504 897,504 897,505 890,505 890,504 889,504 889,503 888,503 888,496 889,496 889,495 890,495ZM893,493h1v1h-1zM893,505h1v1h-1zM891,496 890,496 890,497 889,497 889,502 890,502 890,503 891,503 891,504 896,504 896,503 897,503 897,502 898,502 898,497 897,497 897,496 896,496 896,495 891,495ZM887,499h1v1h-1zM899,499h1v1h-1z M937,466 944,466 944,467 945,467 945,468 946,468 946,475 945,475 945,476 944,476 944,477 937,477 937,476 936,476 936,475 935,475 935,468 936,468 936,467 937,467ZM940,465h1v1h-1zM940,477h1v1h-1zM938,468 937,468 937,469 936,469 936,474 937,474 937,475 938,475 938,476 943,476 943,475 944,475 944,474 945,474 945,469 944,469 944,468 943,468 943,467 938,467ZM934,471h1v1h-1zM946,471h1v1h-1z M943,494 950,494 950,495 951,495 951,496 952,496 952,503 951,503 951,504 950,504 950,505 943,505 943,504 942,504 942,503 941,503 941,496 942,496 942,495 943,495ZM946,493h1v1h-1zM946,505h1v1h-1zM944,496 943,496 943,497 942,497 942,502 943,502 943,503 944,503 944,504 949,504 949,503 950,503 950,502 951,502 951,497 950,497 950,496 949,496 949,495 944,495ZM940,499h1v1h-1zM952,499h1v1h-1z M990,466 997,466 997,467 998,467 998,468 999,468 999,475 998,475 998,476 997,476 997,477 990,477 990,476 989,476 989,475 988,475 988,468 989,468 989,467 990,467ZM993,465h1v1h-1zM993,477h1v1h-1zM991,468 990,468 990,469 989,469 989,474 990,474 990,475 991,475 991,476 996,476 996,475 997,475 997,474 998,474 998,469 997,469 997,468 996,468 996,467 991,467ZM987,471h1v1h-1zM999,471h1v1h-1z M996,465 1003,465 1003,466 1004,466 1004,467 1005,467 1005,474 1004,474 1004,475 1003,475 1003,476 996,476 996,475 995,475 995,474 994,474 994,467 995,467 995,466 996,466ZM999,464h1v1h-1zM999,476h1v1h-1zM997,467 996,467 996,468 995,468 995,473 996,473 996,474 997,474 997,475 1002,475 1002,474 1003,474 1003,473 1004,473 1004,468 1003,468 1003,467 1002,467 1002,466 997,466ZM993,470h1v1h-1zM1005,470h1v1h-1z M1042,497 1049,497 1049,498 1050,498 1050,499 1051,499 1051,506 1050,506 1050,507 1049,507 1049,508 1042,508 1042,507 1041,507 1041,506 1040,506 1040,499 1041,499 1041,498 1042,498ZM1045,496h1v1h-1zM1045,508h1v1h-1zM1043,499 1042,499 1042,500 1041,500 1041,505 1042,505 1042,506 1043,506 1043,507 1048,507 1048,506 1049,506 1049,505 1050,505 1050,500 1049,500 1049,499 1048,499 1048,498 1043,498ZM1039,502h1v1h-1zM1051,502h1v1h-1z M1049,497 1056,497 1056,498 1057,498 1057,499 1058,499 1058,506 1057,506 1057,507 1056,507 1056,508 1049,508 1049,507 1048,507 1048,506 1047,506 1047,499 1048,499 1048,498 1049,498ZM1052,496h1v1h-1zM1052,508h1v1h-1zM1050,499 1049,499 1049,500 1048,500 1048,505 1049,505 1049,506 1050,506 1050,507 1055,507 1055,506 1056,506 1056,505 1057,505 1057,500 1056,500 1056,499 1055,499 1055,498 1050,498ZM1046,502h1v1h-1zM1058,502h1v1h-1z M1095,497 1102,497 1102,498 1103,498 1103,499 1104,499 1104,506 1103,506 1103,507 1102,507 1102,508 1095,508 1095,507 1094,507 1094,506 1093,506 1093,499 1094,499 1094,498 1095,498ZM1098,496h1v1h-1zM1098,508h1v1h-1zM1096,499 1095,499 1095,500 1094,500 1094,505 1095,505 1095,506 1096,506 1096,507 1101,507 1101,506 1102,506 1102,505 1103,505 1103,500 1102,500 1102,499 1101,499 1101,498 1096,498ZM1092,502h1v1h-1zM1104,502h1v1h-1z M1101,495 1108,495 1108,496 1109,496 1109,497 1110,497 1110,504 1109,504 1109,505 1108,505 1108,506 1101,506 1101,505 1100,505 1100,504 1099,504 1099,497 1100,497 1100,496 1101,496ZM1104,494h1v1h-1zM1104,506h1v1h-1zM1102,497 1101,497 1101,498 1100,498 1100,503 1101,503 1101,504 1102,504 1102,505 1107,505 1107,504 1108,504 1108,503 1109,503 1109,498 1108,498 1108,497 1107,497 1107,496 1102,496ZM1098,500h1v1h-1zM1110,500h1v1h-1z M1148,496 1155,496 1155,497 1156,497 1156,498 1157,498 1157,505 1156,505 1156,506 1155,506 1155,507 1148,507 1148,506 1147,506 1147,505 1146,505 1146,498 1147,498 1147,497 1148,497ZM1151,495h1v1h-1zM1151,507h1v1h-1zM1149,498 1148,498 1148,499 1147,499 1147,504 1148,504 1148,505 1149,505 1149,506 1154,506 1154,505 1155,505 1155,504 1156,504 1156,499 1155,499 1155,498 1154,498 1154,497 1149,497ZM1145,501h1v1h-1zM1157,501h1v1h-1z M1154,497 1161,497 1161,498 1162,498 1162,499 1163,499 1163,506 1162,506 1162,507 1161,507 1161,508 1154,508 1154,507 1153,507 1153,506 1152,506 1152,499 1153,499 1153,498 1154,498ZM1157,496h1v1h-1zM1157,508h1v1h-1zM1155,499 1154,499 1154,500 1153,500 1153,505 1154,505 1154,506 1155,506 1155,507 1160,507 1160,506 1161,506 1161,505 1162,505 1162,500 1161,500 1161,499 1160,499 1160,498 1155,498ZM1151,502h1v1h-1zM1163,502h1v1h-1z M1200,497 1207,497 1207,498 1208,498 1208,499 1209,499 1209,506 1208,506 1208,507 1207,507 1207,508 1200,508 1200,507 1199,507 1199,506 1198,506 1198,499 1199,499 1199,498 1200,498ZM1203,496h1v1h-1zM1203,508h1v1h-1zM1201,499 1200,499 1200,500 1199,500 1199,505 1200,505 1200,506 1201,506 1201,507 1206,507 1206,506 1207,506 1207,505 1208,505 1208,500 1207,500 1207,499 1206,499 1206,498 1201,498ZM1197,502h1v1h-1zM1209,502h1v1h-1z M1207,496 1214,496 1214,497 1215,497 1215,498 1216,498 1216,505 1215,505 1215,506 1214,506 1214,507 1207,507 1207,506 1206,506 1206,505 1205,505 1205,498 1206,498 1206,497 1207,497ZM1210,495h1v1h-1zM1210,507h1v1h-1zM1208,498 1207,498 1207,499 1206,499 1206,504 1207,504 1207,505 1208,505 1208,506 1213,506 1213,505 1214,505 1214,504 1215,504 1215,499 1214,499 1214,498 1213,498 1213,497 1208,497ZM1204,501h1v1h-1zM1216,501h1v1h-1z M1253,464 1260,464 1260,465 1261,465 1261,466 1262,466 1262,473 1261,473 1261,474 1260,474 1260,475 1253,475 1253,474 1252,474 1252,473 1251,473 1251,466 1252,466 1252,465 1253,465ZM1256,463h1v1h-1zM1256,475h1v1h-1zM1254,466 1253,466 1253,467 1252,467 1252,472 1253,472 1253,473 1254,473 1254,474 1259,474 1259,473 1260,473 1260,472 1261,472 1261,467 1260,467 1260,466 1259,466 1259,465 1254,465ZM1250,469h1v1h-1zM1262,469h1v1h-1z M1259,496 1266,496 1266,497 1267,497 1267,498 1268,498 1268,505 1267,505 1267,506 1266,506 1266,507 1259,507 1259,506 1258,506 1258,505 1257,505 1257,498 1258,498 1258,497 1259,497ZM1262,495h1v1h-1zM1262,507h1v1h-1zM1260,498 1259,498 1259,499 1258,499 1258,504 1259,504 1259,505 1260,505 1260,506 1265,506 1265,505 1266,505 1266,504 1267,504 1267,499 1266,499 1266,498 1265,498 1265,497 1260,497ZM1256,501h1v1h-1zM1268,501h1v1h-1z M1306,465 1313,465 1313,466 1314,466 1314,467 1315,467 1315,474 1314,474 1314,475 1313,475 1313,476 1306,476 1306,475 1305,475 1305,474 1304,474 1304,467 1305,467 1305,466 1306,466ZM1309,464h1v1h-1zM1309,476h1v1h-1zM1307,467 1306,467 1306,468 1305,468 1305,473 1306,473 1306,474 1307,474 1307,475 1312,475 1312,474 1313,474 1313,473 1314,473 1314,468 1313,468 1313,467 1312,467 1312,466 1307,466ZM1303,470h1v1h-1zM1315,470h1v1h-1z M1312,497 1319,497 1319,498 1320,498 1320,499 1321,499 1321,506 1320,506 1320,507 1319,507 1319,508 1312,508 1312,507 1311,507 1311,506 1310,506 1310,499 1311,499 1311,498 1312,498ZM1315,496h1v1h-1zM1315,508h1v1h-1zM1313,499 1312,499 1312,500 1311,500 1311,505 1312,505 1312,506 1313,506 1313,507 1318,507 1318,506 1319,506 1319,505 1320,505 1320,500 1319,500 1319,499 1318,499 1318,498 1313,498ZM1309,502h1v1h-1zM1321,502h1v1h-1z M1359,496 1366,496 1366,497 1367,497 1367,498 1368,498 1368,505 1367,505 1367,506 1366,506 1366,507 1359,507 1359,506 1358,506 1358,505 1357,505 1357,498 1358,498 1358,497 1359,497ZM1362,495h1v1h-1zM1362,507h1v1h-1zM1360,498 1359,498 1359,499 1358,499 1358,504 1359,504 1359,505 1360,505 1360,506 1365,506 1365,505 1366,505 1366,504 1367,504 1367,499 1366,499 1366,498 1365,498 1365,497 1360,497ZM1356,501h1v1h-1zM1368,501h1v1h-1z"/>
<path shape-rendering="crispEdges" fill="#c8c800" d="M100,534 107,534 107,535 108,535 108,536 109,536 109,543 108,543 108,544 107,544 107,545 100,545 100,544 99,544 99,543 98,543 98,536 99,536 99,535 100,535ZM103,533h1v1h-1zM103,545h1v1h-1z M146,534 153,534 153,535 154,535 154,536 155,536 155,543 154,543 154,544 153,544 153,545 146,545 146,544 145,544 145,543 144,543 144,536 145,536 145,535 146,535ZM149,533h1v1h-1zM149,545h1v1h-1z M205,534 212,534 212,535 213,535 213,536 214,536 214,543 213,543 213,544 212,544 212,545 205,545 205,544 204,544 204,543 203,543 203,536 204,536 204,535 205,535ZM208,533h1v1h-1zM208,545h1v1h-1z M252,534 259,534 259,535 260,535 260,536 261,536 261,543 260,543 260,544 259,544 259,545 252,545 252,544 251,544 251,543 250,543 250,536 251,536 251,535 252,535ZM255,533h1v1h-1zM255,545h1v1h-1z M258,534 265,534 265,535 266,535 266,536 267,536 267,543 266,543 266,544 265,544 265,545 258,545 258,544 257,544 257,543 256,543 256,536 257,536 257,535 258,535ZM261,533h1v1h-1zM261,545h1v1h-1z M304,529 311,529 311,530 312,530 312,531 313,531 313,538 312,538 312,539 311,539 311,540 304,540 304,539 303,539 303,538 302,538 302,531 303,531 303,530 304,530ZM307,528h1v1h-1zM307,540h1v1h-1z M311,534 318,534 318,535 319,535 319,536 320,536 320,543 319,543 319,544 318,544 318,545 311,545 311,544 310,544 310,543 309,543 309,536 310,536 310,535 311,535ZM314,533h1v1h-1zM314,545h1v1h-1z M357,534 364,534 364,535 365,535 365,536 366,536 366,543 365,543 365,544 364,544 364,545 357,545 357,544 356,544 356,543 355,543 355,536 356,536 356,535 357,535ZM360,533h1v1h-1zM360,545h1v1h-1z M363,534 370,534 370,535 371,535 371,536 372,536 372,543 371,543 371,544 370,544 370,545 363,545 363,544 362,544 362,543 361,543 361,536 362,536 362,535 363,535ZM366,533h1v1h-1zM366,545h1v1h-1z M410,534 417,534 417,535 418,535 418,536 419,536 419,543 418,543 418,544 417,544 417,545 410,545 410,544 409,544 409,543 408,543 408,536 409,536 409,535 410,535ZM413,533h1v1h-1zM413,545h1v1h-1z M416,534 423,534 423,535 424,535 424,536 425,536 425,543 424,543 424,544 423,544 423,545 416,545 416,544 415,544 415,543 414,543 414,536 415,536 415,535 416,535ZM419,533h1v1h-1zM419,545h1v1h-1z M464,534 471,534 471,535 472,535 472,536 473,536 473,543 472,543 472,544 471,544 471,545 464,545 464,544 463,544 463,543 462,543 462,536 463,536 463,535 464,535ZM467,533h1v1h-1zM467,545h1v1h-1z M470,534 477,534 477,535 478,535 478,536 479,536 479,543 478,543 478,544 477,544 477,545 470,545 470,544 469,544 469,543 468,543 468,536 469,536 469,535 470,535ZM473,533h1v1h-1zM473,545h1v1h-1z M515,534 522,534 522,535 523,535 523,536 524,536 524,543 523,543 523,544 522,544 522,545 515,545 515,544 514,544 514,543 513,543 513,536 514,536 514,535 515,535ZM518,533h1v1h-1zM518,545h1v1h-1z M522,534 529,534 529,535 530,535 530,536 531,536 531,543 530,543 530,544 529,544 529,545 522,545 522,544 521,544 521,543 520,543 520,536 521,536 521,535 522,535ZM525,533h1v1h-1zM525,545h1v1h-1z M568,534 575,534 575,535 576,535 576,536 577,536 577,543 576,543 576,544 575,544 575,545 568,545 568,544 567,544 567,543 566,543 566,536 567,536 567,535 568,535ZM571,533h1v1h-1zM571,545h1v1h-1z M574,534 581,534 581,535 582,535 582,536 583,536 583,543 582,543 582,544 581,544 581,545 574,545 574,544 573,544 573,543 572,543 572,536 573,536 573,535 574,535ZM577,533h1v1h-1zM577,545h1v1h-1z M621,534 628,534 628,535 629,535 629,536 630,536 630,543 629,543 629,544 628,544 628,545 621,545 621,544 620,544 620,543 619,543 619,536 620,536 620,535 621,535ZM624,533h1v1h-1zM624,545h1v1h-1z M628,534 635,534 635,535 636,535 636,536 637,536 637,543 636,543 636,544 635,544 635,545 628,545 628,544 627,544 627,543 626,543 626,536 627,536 627,535 628,535ZM631,533h1v1h-1zM631,545h1v1h-1z M673,534 680,534 680,535 681,535 681,536 682,536 682,543 681,543 681,544 680,544 680,545 673,545 673,544 672,544 672,543 671,543 671,536 672,536 672,535 673,535ZM676,533h1v1h-1zM676,545h1v1h-1z M680,534 687,534 687,535 688,535 688,536 689,536 689,543 688,543 688,544 687,544 687,545 680,545 680,544 679,544 679,543 678,543 678,536 679,536 679,535 680,535ZM683,533h1v1h-1zM683,545h1v1h-1z M727,534 734,534 734,535 735,535 735,536 736,536 736,543 735,543 735,544 734,544 734,545 727,545 727,544 726,544 726,543 725,543 725,536 726,536 726,535 727,535ZM730,533h1v1h-1zM730,545h1v1h-1z M732,534 739,534 739,535 740,535 740,536 741,536 741,543 740,543 740,544 739,544 739,545 732,545 732,544 731,544 731,543 730,543 730,536 731,536 731,535 732,535ZM735,533h1v1h-1zM735,545h1v1h-1z M779,534 786,534 786,535 787,535 787,536 788,536 788,543 787,543 787,544 786,544 786,545 779,545 779,544 778,544 778,543 777,543 777,536 778,536 778,535 779,535ZM782,533h1v1h-1zM782,545h1v1h-1z M785,534 792,534 792,535 793,535 793,536 794,536 794,543 793,543 793,544 792,544 792,545 785,545 785,544 784,544 784,543 783,543 783,536 784,536 784,535 785,535ZM788,533h1v1h-1zM788,545h1v1h-1z M832,534 839,534 839,535 840,535 840,536 841,536 841,543 840,543 840,544 839,544 839,545 832,545 832,544 831,544 831,543 830,543 830,536 831,536 831,535 832,535ZM835,533h1v1h-1zM835,545h1v1h-1z M838,534 845,534 845,535 846,535 846,536 847,536 847,543 846,543 846,544 845,544 845,545 838,545 838,544 837,544 837,543 836,543 836,536 837,536 837,535 838,535ZM841,533h1v1h-1zM841,545h1v1h-1z M884,534 891,534 891,535 892,535 892,536 893,536 893,543 892,543 892,544 891,544 891,545 884,545 884,544 883,544 883,543 882,543 882,536 883,536 883,535 884,535ZM887,533h1v1h-1zM887,545h1v1h-1z M890,534 897,534 897,535 898,535 898,536 899,536 899,543 898,543 898,544 897,544 897,545 890,545 890,544 889,544 889,543 888,543 888,536 889,536 889,535 890,535ZM893,533h1v1h-1zM893,545h1v1h-1z M937,534 944,534 944,535 945,535 945,536 946,536 946,543 945,543 945,544 944,544 944,545 937,545 937,544 936,544 936,543 935,543 935,536 936,536 936,535 937,535ZM940,533h1v1h-1zM940,545h1v1h-1z M943,534 950,534 950,535 951,535 951,536 952,536 952,543 951,543 951,544 950,544 950,545 943,545 943,544 942,544 942,543 941,543 941,536 942,536 942,535 943,535ZM946,533h1v1h-1zM946,545h1v1h-1z M990,534 997,534 997,535 998,535 998,536 999,536 999,543 998,543 998,544 997,544 997,545 990,545 990,544 989,544 989,543 988,543 988,536 989,536 989,535 990,535ZM993,533h1v1h-1zM993,545h1v1h-1z M996,534 1003,534 1003,535 1004,535 1004,536 1005,536 1005,543 1004,543 1004,544 1003,544 1003,545 996,545 996,544 995,544 995,543 994,543 994,536 995,536 995,535 996,535ZM999,533h1v1h-1zM999,545h1v1h-1z M1042,534 1049,534 1049,535 1050,535 1050,536 1051,536 1051,543 1050,543 1050,544 1049,544 1049,545 1042,545 1042,544 1041,544 1041,543 1040,543 1040,536 1041,536 1041,535 1042,535ZM1045,533h1v1h-1zM1045,545h1v1h-1z M1049,534 1056,534 1056,535 1057,535 1057,536 1058,536 1058,543 1057,543 1057,544 1056,544 1056,545 1049,545 1049,544 1048,544 1048,543 1047,543 1047,536 1048,536 1048,535 1049,535ZM1052,533h1v1h-1zM1052,545h1v1h-1z M1095,534 1102,534 1102,535 1103,535 1103,536 1104,536 1104,543 1103,543 1103,544 1102,544 1102,545 1095,545 1095,544 1094,544 1094,543 1093,543 1093,536 1094,536 1094,535 1095,535ZM1098,533h1v1h-1zM1098,545h1v1h-1z M1101,534 1108,534 1108,535 1109,535 1109,536 1110,536 1110,543 1109,543 1109,544 1108,544 1108,545 1101,545 1101,544 1100,544 1100,543 1099,543 1099,536 1100,536 1100,535 1101,535ZM1104,533h1v1h-1zM1104,545h1v1h-1z M1148,534 1155,534 1155,535 1156,535 1156,536 1157,536 1157,543 1156,543 1156,544 1155,544 1155,545 1148,545 1148,544 1147,544 1147,543 1146,543 1146,536 1147,536 1147,535 1148,535ZM1151,533h1v1h-1zM1151,545h1v1h-1z M1154,534 1161,534 1161,535 1162,535 1162,536 1163,536 1163,543 1162,543 1162,544 1161,544 1161,545 1154,545 1154,544 1153,544 1153,543 1152,543 1152,536 1153,536 1153,535 1154,535ZM1157,533h1v1h-1zM1157,545h1v1h-1z M1200,534 1207,534 1207,535 1208,535 1208,536 1209,536 1209,543 1208,543 1208,544 1207,544 1207,545 1200,545 1200,544 1199,544 1199,543 1198,543 1198,536 1199,536 1199,535 1200,535ZM1203,533h1v1h-1zM1203,545h1v1h-1z M1207,534 1214,534 1214,535 1215,535 1215,536 1216,536 1216,543 1215,543 1215,544 1214,544 1214,545 1207,545 1207,544 1206,544 1206,543 1205,543 1205,536 1206,536 1206,535 1207,535ZM1210,533h1v1h-1zM1210,545h1v1h-1z M1253,534 1260,534 1260,535 1261,535 1261,536 1262,536 1262,543 1261,543 1261,544 1260,544 1260,545 1253,545 1253,544 1252,544 1252,543 1251,543 1251,536 1252,536 1252,535 1253,535ZM1256,533h1v1h-1zM1256,545h1v1h-1z M1259,534 1266,534 1266,535 1267,535 1267,536 1268,536 1268,543 1267,543 1267,544 1266,544 1266,545 1259,545 1259,544 1258,544 1258,543 1257,543 1257,536 1258,536 1258,535 1259,535ZM1262,533h1v1h-1zM1262,545h1v1h-1z M1306,534 1313,534 1313,535 1314,535 1314,536 1315,536 1315,543 1314,543 1314,544 1313,544 1313,545 1306,545 1306,544 1305,544 1305,543 1304,543 1304,536 1305,536 1305,535 1306,535ZM1309,533h1v1h-1zM1309,545h1v1h-1z M1312,534 1319,534 1319,535 1320,535 1320,536 1321,536 1321,543 1320,543 1320,544 1319,544 1319,545 1312,545 1312,544 1311,544 1311,543 1310,543 1310,536 1311,536 1311,535 1312,535ZM1315,533h1v1h-1zM1315,545h1v1h-1z M1359,534 1366,534 1366,535 1367,535 1367,536 1368,536 1368,543 1367,543 1367,544 1366,544 1366,545 1359,545 1359,544 1358,544 1358,543 1357,543 1357,536 1358,536 1358,535 1359,535ZM1362,533h1v1h-1zM1362,545h1v1h-1z"/>
<rect class="c" stroke="#000" x="101.5" y="57.5" width="1265.0" height="482.0"/>
</svg></body></html>
